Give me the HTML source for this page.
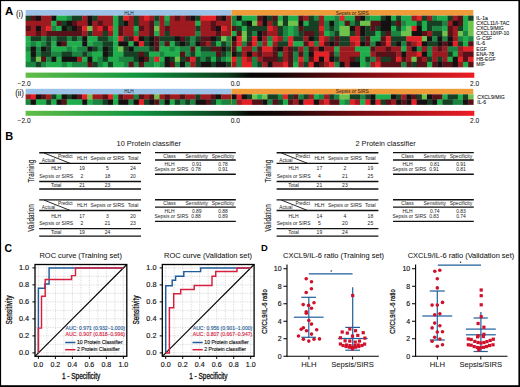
<!DOCTYPE html><html><head><meta charset="utf-8"><style>html,body{margin:0;padding:0;background:#fff;overflow:hidden}svg{display:block}text{font-family:"Liberation Sans", sans-serif;}</style></head><body>
<svg width="520" height="387" viewBox="0 0 520 387">
<rect width="520" height="387" fill="#fff"/>
<text x="5" y="14.7" font-size="11.5" text-anchor="start" fill="#000" stroke="none" font-weight="bold" >A</text>
<text x="16.0" y="16.6" font-size="8.2" text-anchor="start" fill="#111" stroke="#111" stroke-width="0.05" font-weight="normal" transform="translate(16.0,0) scale(0.97,1) translate(-16.0,0)">(i)</text>
<rect x="25.6" y="10" width="205.90" height="5.6" fill="#9dc2e8"/>
<rect x="231.5" y="10" width="241.80" height="5.6" fill="#ef9b3a"/>
<text x="129" y="14.6" font-size="4.7" text-anchor="middle" fill="#222" stroke="none" font-weight="normal" >HLH</text>
<text x="352.3" y="14.7" font-size="4.9" text-anchor="middle" fill="#222" stroke="none" font-weight="normal" >Sepsis or SIRS</text>
<rect x="25.60" y="15.60" width="5.45" height="5.44" fill="#173f24"/>
<rect x="30.75" y="15.60" width="5.45" height="5.44" fill="#561218"/>
<rect x="35.89" y="15.60" width="5.45" height="5.44" fill="#151112"/>
<rect x="41.04" y="15.60" width="10.59" height="5.44" fill="#9e1a21"/>
<rect x="51.33" y="15.60" width="5.45" height="5.44" fill="#151112"/>
<rect x="56.48" y="15.60" width="10.59" height="5.44" fill="#20ad4b"/>
<rect x="66.77" y="15.60" width="5.45" height="5.44" fill="#1a8440"/>
<rect x="71.91" y="15.60" width="10.59" height="5.44" fill="#173f24"/>
<rect x="82.21" y="15.60" width="5.45" height="5.44" fill="#9e1a21"/>
<rect x="87.35" y="15.60" width="5.45" height="5.44" fill="#151112"/>
<rect x="92.50" y="15.60" width="5.45" height="5.44" fill="#173f24"/>
<rect x="97.64" y="15.60" width="15.74" height="5.44" fill="#9e1a21"/>
<rect x="113.08" y="15.60" width="5.45" height="5.44" fill="#20ad4b"/>
<rect x="118.23" y="15.60" width="5.45" height="5.44" fill="#173f24"/>
<rect x="123.37" y="15.60" width="5.45" height="5.44" fill="#e32228"/>
<rect x="128.52" y="15.60" width="5.45" height="5.44" fill="#9e1a21"/>
<rect x="133.67" y="15.60" width="5.45" height="5.44" fill="#173f24"/>
<rect x="138.81" y="15.60" width="5.45" height="5.44" fill="#9e1a21"/>
<rect x="143.96" y="15.60" width="5.45" height="5.44" fill="#e32228"/>
<rect x="149.10" y="15.60" width="5.45" height="5.44" fill="#9e1a21"/>
<rect x="154.25" y="15.60" width="5.45" height="5.44" fill="#173f24"/>
<rect x="159.40" y="15.60" width="5.45" height="5.44" fill="#9e1a21"/>
<rect x="164.54" y="15.60" width="5.45" height="5.44" fill="#20ad4b"/>
<rect x="169.69" y="15.60" width="5.45" height="5.44" fill="#9e1a21"/>
<rect x="174.83" y="15.60" width="5.45" height="5.44" fill="#561218"/>
<rect x="179.98" y="15.60" width="5.45" height="5.44" fill="#9e1a21"/>
<rect x="185.13" y="15.60" width="5.45" height="5.44" fill="#561218"/>
<rect x="190.27" y="15.60" width="5.45" height="5.44" fill="#151112"/>
<rect x="195.42" y="15.60" width="5.45" height="5.44" fill="#173f24"/>
<rect x="200.56" y="15.60" width="15.74" height="5.44" fill="#e32228"/>
<rect x="216.00" y="15.60" width="5.45" height="5.44" fill="#561218"/>
<rect x="221.15" y="15.60" width="5.45" height="5.44" fill="#151112"/>
<rect x="226.29" y="15.60" width="5.45" height="5.44" fill="#9e1a21"/>
<rect x="231.44" y="15.60" width="5.45" height="5.44" fill="#1a8440"/>
<rect x="236.59" y="15.60" width="5.45" height="5.44" fill="#151112"/>
<rect x="241.73" y="15.60" width="15.74" height="5.44" fill="#20ad4b"/>
<rect x="257.17" y="15.60" width="5.45" height="5.44" fill="#561218"/>
<rect x="262.31" y="15.60" width="5.45" height="5.44" fill="#151112"/>
<rect x="267.46" y="15.60" width="5.45" height="5.44" fill="#173f24"/>
<rect x="272.61" y="15.60" width="5.45" height="5.44" fill="#561218"/>
<rect x="277.75" y="15.60" width="5.45" height="5.44" fill="#20ad4b"/>
<rect x="282.90" y="15.60" width="5.45" height="5.44" fill="#173f24"/>
<rect x="288.04" y="15.60" width="10.59" height="5.44" fill="#20ad4b"/>
<rect x="298.34" y="15.60" width="5.45" height="5.44" fill="#561218"/>
<rect x="303.48" y="15.60" width="5.45" height="5.44" fill="#9e1a21"/>
<rect x="308.63" y="15.60" width="5.45" height="5.44" fill="#173f24"/>
<rect x="313.77" y="15.60" width="5.45" height="5.44" fill="#1a8440"/>
<rect x="318.92" y="15.60" width="5.45" height="5.44" fill="#9e1a21"/>
<rect x="324.07" y="15.60" width="10.59" height="5.44" fill="#20ad4b"/>
<rect x="334.36" y="15.60" width="5.45" height="5.44" fill="#1a8440"/>
<rect x="339.50" y="15.60" width="5.45" height="5.44" fill="#e32228"/>
<rect x="344.65" y="15.60" width="10.59" height="5.44" fill="#20ad4b"/>
<rect x="354.94" y="15.60" width="5.45" height="5.44" fill="#561218"/>
<rect x="360.09" y="15.60" width="5.45" height="5.44" fill="#151112"/>
<rect x="365.23" y="15.60" width="5.45" height="5.44" fill="#1a8440"/>
<rect x="370.38" y="15.60" width="10.59" height="5.44" fill="#20ad4b"/>
<rect x="380.67" y="15.60" width="5.45" height="5.44" fill="#173f24"/>
<rect x="385.82" y="15.60" width="5.45" height="5.44" fill="#151112"/>
<rect x="390.96" y="15.60" width="5.45" height="5.44" fill="#20ad4b"/>
<rect x="396.11" y="15.60" width="5.45" height="5.44" fill="#173f24"/>
<rect x="401.26" y="15.60" width="10.59" height="5.44" fill="#20ad4b"/>
<rect x="411.55" y="15.60" width="5.45" height="5.44" fill="#9e1a21"/>
<rect x="416.69" y="15.60" width="5.45" height="5.44" fill="#e32228"/>
<rect x="421.84" y="15.60" width="5.45" height="5.44" fill="#173f24"/>
<rect x="426.99" y="15.60" width="5.45" height="5.44" fill="#9e1a21"/>
<rect x="432.13" y="15.60" width="5.45" height="5.44" fill="#1a8440"/>
<rect x="437.28" y="15.60" width="10.59" height="5.44" fill="#20ad4b"/>
<rect x="447.57" y="15.60" width="5.45" height="5.44" fill="#173f24"/>
<rect x="452.72" y="15.60" width="5.45" height="5.44" fill="#9e1a21"/>
<rect x="457.86" y="15.60" width="5.45" height="5.44" fill="#561218"/>
<rect x="463.01" y="15.60" width="5.45" height="5.44" fill="#20ad4b"/>
<rect x="468.15" y="15.60" width="5.45" height="5.44" fill="#173f24"/>
<rect x="25.60" y="20.74" width="26.03" height="5.44" fill="#9e1a21"/>
<rect x="51.33" y="20.74" width="5.45" height="5.44" fill="#20ad4b"/>
<rect x="56.48" y="20.74" width="5.45" height="5.44" fill="#561218"/>
<rect x="61.62" y="20.74" width="5.45" height="5.44" fill="#173f24"/>
<rect x="66.77" y="20.74" width="5.45" height="5.44" fill="#151112"/>
<rect x="71.91" y="20.74" width="5.45" height="5.44" fill="#561218"/>
<rect x="77.06" y="20.74" width="10.59" height="5.44" fill="#9e1a21"/>
<rect x="87.35" y="20.74" width="5.45" height="5.44" fill="#151112"/>
<rect x="92.50" y="20.74" width="5.45" height="5.44" fill="#9e1a21"/>
<rect x="97.64" y="20.74" width="5.45" height="5.44" fill="#561218"/>
<rect x="102.79" y="20.74" width="10.59" height="5.44" fill="#9e1a21"/>
<rect x="113.08" y="20.74" width="5.45" height="5.44" fill="#20ad4b"/>
<rect x="118.23" y="20.74" width="5.45" height="5.44" fill="#173f24"/>
<rect x="123.37" y="20.74" width="5.45" height="5.44" fill="#151112"/>
<rect x="128.52" y="20.74" width="5.45" height="5.44" fill="#9e1a21"/>
<rect x="133.67" y="20.74" width="5.45" height="5.44" fill="#173f24"/>
<rect x="138.81" y="20.74" width="10.59" height="5.44" fill="#9e1a21"/>
<rect x="149.10" y="20.74" width="5.45" height="5.44" fill="#561218"/>
<rect x="154.25" y="20.74" width="5.45" height="5.44" fill="#1a8440"/>
<rect x="159.40" y="20.74" width="5.45" height="5.44" fill="#9e1a21"/>
<rect x="164.54" y="20.74" width="5.45" height="5.44" fill="#1a8440"/>
<rect x="169.69" y="20.74" width="26.03" height="5.44" fill="#9e1a21"/>
<rect x="195.42" y="20.74" width="5.45" height="5.44" fill="#20ad4b"/>
<rect x="200.56" y="20.74" width="10.59" height="5.44" fill="#9e1a21"/>
<rect x="210.86" y="20.74" width="5.45" height="5.44" fill="#561218"/>
<rect x="216.00" y="20.74" width="15.74" height="5.44" fill="#9e1a21"/>
<rect x="231.44" y="20.74" width="5.45" height="5.44" fill="#1a8440"/>
<rect x="236.59" y="20.74" width="5.45" height="5.44" fill="#20ad4b"/>
<rect x="241.73" y="20.74" width="5.45" height="5.44" fill="#173f24"/>
<rect x="246.88" y="20.74" width="5.45" height="5.44" fill="#151112"/>
<rect x="252.02" y="20.74" width="5.45" height="5.44" fill="#6fc24c"/>
<rect x="257.17" y="20.74" width="5.45" height="5.44" fill="#9e1a21"/>
<rect x="262.31" y="20.74" width="5.45" height="5.44" fill="#151112"/>
<rect x="267.46" y="20.74" width="5.45" height="5.44" fill="#9e1a21"/>
<rect x="272.61" y="20.74" width="5.45" height="5.44" fill="#173f24"/>
<rect x="277.75" y="20.74" width="5.45" height="5.44" fill="#6fc24c"/>
<rect x="282.90" y="20.74" width="5.45" height="5.44" fill="#173f24"/>
<rect x="288.04" y="20.74" width="10.59" height="5.44" fill="#6fc24c"/>
<rect x="298.34" y="20.74" width="5.45" height="5.44" fill="#151112"/>
<rect x="303.48" y="20.74" width="5.45" height="5.44" fill="#20ad4b"/>
<rect x="308.63" y="20.74" width="10.59" height="5.44" fill="#173f24"/>
<rect x="318.92" y="20.74" width="5.45" height="5.44" fill="#9e1a21"/>
<rect x="324.07" y="20.74" width="5.45" height="5.44" fill="#1a8440"/>
<rect x="329.21" y="20.74" width="5.45" height="5.44" fill="#151112"/>
<rect x="334.36" y="20.74" width="5.45" height="5.44" fill="#1a8440"/>
<rect x="339.50" y="20.74" width="5.45" height="5.44" fill="#20ad4b"/>
<rect x="344.65" y="20.74" width="5.45" height="5.44" fill="#561218"/>
<rect x="349.80" y="20.74" width="5.45" height="5.44" fill="#1a8440"/>
<rect x="354.94" y="20.74" width="5.45" height="5.44" fill="#173f24"/>
<rect x="360.09" y="20.74" width="10.59" height="5.44" fill="#6fc24c"/>
<rect x="370.38" y="20.74" width="10.59" height="5.44" fill="#561218"/>
<rect x="380.67" y="20.74" width="10.59" height="5.44" fill="#151112"/>
<rect x="390.96" y="20.74" width="5.45" height="5.44" fill="#173f24"/>
<rect x="396.11" y="20.74" width="5.45" height="5.44" fill="#561218"/>
<rect x="401.26" y="20.74" width="5.45" height="5.44" fill="#1a8440"/>
<rect x="406.40" y="20.74" width="10.59" height="5.44" fill="#20ad4b"/>
<rect x="416.69" y="20.74" width="5.45" height="5.44" fill="#173f24"/>
<rect x="421.84" y="20.74" width="5.45" height="5.44" fill="#20ad4b"/>
<rect x="426.99" y="20.74" width="15.74" height="5.44" fill="#173f24"/>
<rect x="442.42" y="20.74" width="5.45" height="5.44" fill="#1a8440"/>
<rect x="447.57" y="20.74" width="5.45" height="5.44" fill="#9e1a21"/>
<rect x="452.72" y="20.74" width="5.45" height="5.44" fill="#151112"/>
<rect x="457.86" y="20.74" width="5.45" height="5.44" fill="#561218"/>
<rect x="463.01" y="20.74" width="5.45" height="5.44" fill="#20ad4b"/>
<rect x="468.15" y="20.74" width="5.45" height="5.44" fill="#6fc24c"/>
<rect x="25.60" y="25.88" width="5.45" height="5.44" fill="#561218"/>
<rect x="30.75" y="25.88" width="5.45" height="5.44" fill="#9e1a21"/>
<rect x="35.89" y="25.88" width="5.45" height="5.44" fill="#151112"/>
<rect x="41.04" y="25.88" width="5.45" height="5.44" fill="#9e1a21"/>
<rect x="46.18" y="25.88" width="5.45" height="5.44" fill="#e32228"/>
<rect x="51.33" y="25.88" width="5.45" height="5.44" fill="#1a8440"/>
<rect x="56.48" y="25.88" width="5.45" height="5.44" fill="#20ad4b"/>
<rect x="61.62" y="25.88" width="5.45" height="5.44" fill="#151112"/>
<rect x="66.77" y="25.88" width="5.45" height="5.44" fill="#173f24"/>
<rect x="71.91" y="25.88" width="5.45" height="5.44" fill="#151112"/>
<rect x="77.06" y="25.88" width="5.45" height="5.44" fill="#561218"/>
<rect x="82.21" y="25.88" width="5.45" height="5.44" fill="#e32228"/>
<rect x="87.35" y="25.88" width="5.45" height="5.44" fill="#6fc24c"/>
<rect x="92.50" y="25.88" width="5.45" height="5.44" fill="#9e1a21"/>
<rect x="97.64" y="25.88" width="5.45" height="5.44" fill="#e32228"/>
<rect x="102.79" y="25.88" width="5.45" height="5.44" fill="#561218"/>
<rect x="107.94" y="25.88" width="5.45" height="5.44" fill="#e32228"/>
<rect x="113.08" y="25.88" width="5.45" height="5.44" fill="#20ad4b"/>
<rect x="118.23" y="25.88" width="5.45" height="5.44" fill="#561218"/>
<rect x="123.37" y="25.88" width="10.59" height="5.44" fill="#9e1a21"/>
<rect x="133.67" y="25.88" width="5.45" height="5.44" fill="#20ad4b"/>
<rect x="138.81" y="25.88" width="5.45" height="5.44" fill="#561218"/>
<rect x="143.96" y="25.88" width="5.45" height="5.44" fill="#9e1a21"/>
<rect x="149.10" y="25.88" width="5.45" height="5.44" fill="#561218"/>
<rect x="154.25" y="25.88" width="5.45" height="5.44" fill="#6fc24c"/>
<rect x="159.40" y="25.88" width="5.45" height="5.44" fill="#9e1a21"/>
<rect x="164.54" y="25.88" width="5.45" height="5.44" fill="#561218"/>
<rect x="169.69" y="25.88" width="26.03" height="5.44" fill="#9e1a21"/>
<rect x="195.42" y="25.88" width="5.45" height="5.44" fill="#173f24"/>
<rect x="200.56" y="25.88" width="10.59" height="5.44" fill="#9e1a21"/>
<rect x="210.86" y="25.88" width="5.45" height="5.44" fill="#561218"/>
<rect x="216.00" y="25.88" width="5.45" height="5.44" fill="#151112"/>
<rect x="221.15" y="25.88" width="5.45" height="5.44" fill="#e32228"/>
<rect x="226.29" y="25.88" width="5.45" height="5.44" fill="#9e1a21"/>
<rect x="231.44" y="25.88" width="5.45" height="5.44" fill="#561218"/>
<rect x="236.59" y="25.88" width="5.45" height="5.44" fill="#173f24"/>
<rect x="241.73" y="25.88" width="5.45" height="5.44" fill="#20ad4b"/>
<rect x="246.88" y="25.88" width="20.88" height="5.44" fill="#173f24"/>
<rect x="267.46" y="25.88" width="5.45" height="5.44" fill="#e32228"/>
<rect x="272.61" y="25.88" width="5.45" height="5.44" fill="#9e1a21"/>
<rect x="277.75" y="25.88" width="5.45" height="5.44" fill="#173f24"/>
<rect x="282.90" y="25.88" width="5.45" height="5.44" fill="#1a8440"/>
<rect x="288.04" y="25.88" width="5.45" height="5.44" fill="#20ad4b"/>
<rect x="293.19" y="25.88" width="5.45" height="5.44" fill="#1a8440"/>
<rect x="298.34" y="25.88" width="5.45" height="5.44" fill="#561218"/>
<rect x="303.48" y="25.88" width="15.74" height="5.44" fill="#173f24"/>
<rect x="318.92" y="25.88" width="5.45" height="5.44" fill="#e32228"/>
<rect x="324.07" y="25.88" width="5.45" height="5.44" fill="#1a8440"/>
<rect x="329.21" y="25.88" width="5.45" height="5.44" fill="#173f24"/>
<rect x="334.36" y="25.88" width="5.45" height="5.44" fill="#1a8440"/>
<rect x="339.50" y="25.88" width="10.59" height="5.44" fill="#6fc24c"/>
<rect x="349.80" y="25.88" width="5.45" height="5.44" fill="#151112"/>
<rect x="354.94" y="25.88" width="5.45" height="5.44" fill="#9e1a21"/>
<rect x="360.09" y="25.88" width="5.45" height="5.44" fill="#151112"/>
<rect x="365.23" y="25.88" width="5.45" height="5.44" fill="#173f24"/>
<rect x="370.38" y="25.88" width="5.45" height="5.44" fill="#561218"/>
<rect x="375.53" y="25.88" width="5.45" height="5.44" fill="#173f24"/>
<rect x="380.67" y="25.88" width="10.59" height="5.44" fill="#151112"/>
<rect x="390.96" y="25.88" width="5.45" height="5.44" fill="#20ad4b"/>
<rect x="396.11" y="25.88" width="5.45" height="5.44" fill="#173f24"/>
<rect x="401.26" y="25.88" width="5.45" height="5.44" fill="#20ad4b"/>
<rect x="406.40" y="25.88" width="5.45" height="5.44" fill="#6fc24c"/>
<rect x="411.55" y="25.88" width="5.45" height="5.44" fill="#e32228"/>
<rect x="416.69" y="25.88" width="5.45" height="5.44" fill="#151112"/>
<rect x="421.84" y="25.88" width="5.45" height="5.44" fill="#20ad4b"/>
<rect x="426.99" y="25.88" width="5.45" height="5.44" fill="#173f24"/>
<rect x="432.13" y="25.88" width="10.59" height="5.44" fill="#1a8440"/>
<rect x="442.42" y="25.88" width="5.45" height="5.44" fill="#20ad4b"/>
<rect x="447.57" y="25.88" width="5.45" height="5.44" fill="#561218"/>
<rect x="452.72" y="25.88" width="5.45" height="5.44" fill="#9e1a21"/>
<rect x="457.86" y="25.88" width="5.45" height="5.44" fill="#173f24"/>
<rect x="463.01" y="25.88" width="5.45" height="5.44" fill="#20ad4b"/>
<rect x="468.15" y="25.88" width="5.45" height="5.44" fill="#6fc24c"/>
<rect x="25.60" y="31.02" width="10.59" height="5.44" fill="#9e1a21"/>
<rect x="35.89" y="31.02" width="5.45" height="5.44" fill="#561218"/>
<rect x="41.04" y="31.02" width="5.45" height="5.44" fill="#9e1a21"/>
<rect x="46.18" y="31.02" width="36.32" height="5.44" fill="#561218"/>
<rect x="82.21" y="31.02" width="5.45" height="5.44" fill="#9e1a21"/>
<rect x="87.35" y="31.02" width="5.45" height="5.44" fill="#173f24"/>
<rect x="92.50" y="31.02" width="10.59" height="5.44" fill="#9e1a21"/>
<rect x="102.79" y="31.02" width="5.45" height="5.44" fill="#173f24"/>
<rect x="107.94" y="31.02" width="5.45" height="5.44" fill="#9e1a21"/>
<rect x="113.08" y="31.02" width="5.45" height="5.44" fill="#20ad4b"/>
<rect x="118.23" y="31.02" width="5.45" height="5.44" fill="#561218"/>
<rect x="123.37" y="31.02" width="10.59" height="5.44" fill="#9e1a21"/>
<rect x="133.67" y="31.02" width="5.45" height="5.44" fill="#1a8440"/>
<rect x="138.81" y="31.02" width="10.59" height="5.44" fill="#9e1a21"/>
<rect x="149.10" y="31.02" width="5.45" height="5.44" fill="#561218"/>
<rect x="154.25" y="31.02" width="5.45" height="5.44" fill="#20ad4b"/>
<rect x="159.40" y="31.02" width="5.45" height="5.44" fill="#9e1a21"/>
<rect x="164.54" y="31.02" width="5.45" height="5.44" fill="#173f24"/>
<rect x="169.69" y="31.02" width="26.03" height="5.44" fill="#9e1a21"/>
<rect x="195.42" y="31.02" width="5.45" height="5.44" fill="#1a8440"/>
<rect x="200.56" y="31.02" width="15.74" height="5.44" fill="#9e1a21"/>
<rect x="216.00" y="31.02" width="5.45" height="5.44" fill="#561218"/>
<rect x="221.15" y="31.02" width="10.59" height="5.44" fill="#9e1a21"/>
<rect x="231.44" y="31.02" width="5.45" height="5.44" fill="#20ad4b"/>
<rect x="236.59" y="31.02" width="5.45" height="5.44" fill="#561218"/>
<rect x="241.73" y="31.02" width="5.45" height="5.44" fill="#6fc24c"/>
<rect x="246.88" y="31.02" width="5.45" height="5.44" fill="#173f24"/>
<rect x="252.02" y="31.02" width="5.45" height="5.44" fill="#1a8440"/>
<rect x="257.17" y="31.02" width="5.45" height="5.44" fill="#151112"/>
<rect x="262.31" y="31.02" width="5.45" height="5.44" fill="#561218"/>
<rect x="267.46" y="31.02" width="10.59" height="5.44" fill="#9e1a21"/>
<rect x="277.75" y="31.02" width="5.45" height="5.44" fill="#173f24"/>
<rect x="282.90" y="31.02" width="5.45" height="5.44" fill="#1a8440"/>
<rect x="288.04" y="31.02" width="5.45" height="5.44" fill="#20ad4b"/>
<rect x="293.19" y="31.02" width="5.45" height="5.44" fill="#1a8440"/>
<rect x="298.34" y="31.02" width="5.45" height="5.44" fill="#173f24"/>
<rect x="303.48" y="31.02" width="10.59" height="5.44" fill="#561218"/>
<rect x="313.77" y="31.02" width="5.45" height="5.44" fill="#173f24"/>
<rect x="318.92" y="31.02" width="5.45" height="5.44" fill="#9e1a21"/>
<rect x="324.07" y="31.02" width="5.45" height="5.44" fill="#20ad4b"/>
<rect x="329.21" y="31.02" width="5.45" height="5.44" fill="#1a8440"/>
<rect x="334.36" y="31.02" width="5.45" height="5.44" fill="#173f24"/>
<rect x="339.50" y="31.02" width="10.59" height="5.44" fill="#6fc24c"/>
<rect x="349.80" y="31.02" width="5.45" height="5.44" fill="#173f24"/>
<rect x="354.94" y="31.02" width="5.45" height="5.44" fill="#9e1a21"/>
<rect x="360.09" y="31.02" width="5.45" height="5.44" fill="#151112"/>
<rect x="365.23" y="31.02" width="10.59" height="5.44" fill="#173f24"/>
<rect x="375.53" y="31.02" width="5.45" height="5.44" fill="#20ad4b"/>
<rect x="380.67" y="31.02" width="5.45" height="5.44" fill="#173f24"/>
<rect x="385.82" y="31.02" width="5.45" height="5.44" fill="#561218"/>
<rect x="390.96" y="31.02" width="10.59" height="5.44" fill="#1a8440"/>
<rect x="401.26" y="31.02" width="10.59" height="5.44" fill="#6fc24c"/>
<rect x="411.55" y="31.02" width="10.59" height="5.44" fill="#151112"/>
<rect x="421.84" y="31.02" width="5.45" height="5.44" fill="#561218"/>
<rect x="426.99" y="31.02" width="5.45" height="5.44" fill="#9e1a21"/>
<rect x="432.13" y="31.02" width="10.59" height="5.44" fill="#173f24"/>
<rect x="442.42" y="31.02" width="5.45" height="5.44" fill="#6fc24c"/>
<rect x="447.57" y="31.02" width="5.45" height="5.44" fill="#561218"/>
<rect x="452.72" y="31.02" width="5.45" height="5.44" fill="#9e1a21"/>
<rect x="457.86" y="31.02" width="5.45" height="5.44" fill="#6fc24c"/>
<rect x="463.01" y="31.02" width="5.45" height="5.44" fill="#1a8440"/>
<rect x="468.15" y="31.02" width="5.45" height="5.44" fill="#6fc24c"/>
<rect x="25.60" y="36.16" width="5.45" height="5.44" fill="#20ad4b"/>
<rect x="30.75" y="36.16" width="10.59" height="5.44" fill="#173f24"/>
<rect x="41.04" y="36.16" width="5.45" height="5.44" fill="#1a8440"/>
<rect x="46.18" y="36.16" width="5.45" height="5.44" fill="#173f24"/>
<rect x="51.33" y="36.16" width="5.45" height="5.44" fill="#1a8440"/>
<rect x="56.48" y="36.16" width="10.59" height="5.44" fill="#173f24"/>
<rect x="66.77" y="36.16" width="5.45" height="5.44" fill="#1a8440"/>
<rect x="71.91" y="36.16" width="5.45" height="5.44" fill="#173f24"/>
<rect x="77.06" y="36.16" width="5.45" height="5.44" fill="#1a8440"/>
<rect x="82.21" y="36.16" width="5.45" height="5.44" fill="#151112"/>
<rect x="87.35" y="36.16" width="10.59" height="5.44" fill="#20ad4b"/>
<rect x="97.64" y="36.16" width="10.59" height="5.44" fill="#173f24"/>
<rect x="107.94" y="36.16" width="5.45" height="5.44" fill="#1a8440"/>
<rect x="113.08" y="36.16" width="5.45" height="5.44" fill="#20ad4b"/>
<rect x="118.23" y="36.16" width="5.45" height="5.44" fill="#e32228"/>
<rect x="123.37" y="36.16" width="5.45" height="5.44" fill="#173f24"/>
<rect x="128.52" y="36.16" width="5.45" height="5.44" fill="#561218"/>
<rect x="133.67" y="36.16" width="5.45" height="5.44" fill="#e32228"/>
<rect x="138.81" y="36.16" width="5.45" height="5.44" fill="#151112"/>
<rect x="143.96" y="36.16" width="5.45" height="5.44" fill="#173f24"/>
<rect x="149.10" y="36.16" width="5.45" height="5.44" fill="#151112"/>
<rect x="154.25" y="36.16" width="5.45" height="5.44" fill="#561218"/>
<rect x="159.40" y="36.16" width="15.74" height="5.44" fill="#173f24"/>
<rect x="174.83" y="36.16" width="5.45" height="5.44" fill="#151112"/>
<rect x="179.98" y="36.16" width="5.45" height="5.44" fill="#561218"/>
<rect x="185.13" y="36.16" width="5.45" height="5.44" fill="#173f24"/>
<rect x="190.27" y="36.16" width="5.45" height="5.44" fill="#1a8440"/>
<rect x="195.42" y="36.16" width="5.45" height="5.44" fill="#173f24"/>
<rect x="200.56" y="36.16" width="10.59" height="5.44" fill="#561218"/>
<rect x="210.86" y="36.16" width="5.45" height="5.44" fill="#151112"/>
<rect x="216.00" y="36.16" width="5.45" height="5.44" fill="#173f24"/>
<rect x="221.15" y="36.16" width="5.45" height="5.44" fill="#6fc24c"/>
<rect x="226.29" y="36.16" width="5.45" height="5.44" fill="#1a8440"/>
<rect x="231.44" y="36.16" width="5.45" height="5.44" fill="#151112"/>
<rect x="236.59" y="36.16" width="5.45" height="5.44" fill="#e32228"/>
<rect x="241.73" y="36.16" width="5.45" height="5.44" fill="#6fc24c"/>
<rect x="246.88" y="36.16" width="5.45" height="5.44" fill="#173f24"/>
<rect x="252.02" y="36.16" width="5.45" height="5.44" fill="#e32228"/>
<rect x="257.17" y="36.16" width="5.45" height="5.44" fill="#151112"/>
<rect x="262.31" y="36.16" width="5.45" height="5.44" fill="#9e1a21"/>
<rect x="267.46" y="36.16" width="5.45" height="5.44" fill="#1a8440"/>
<rect x="272.61" y="36.16" width="5.45" height="5.44" fill="#e32228"/>
<rect x="277.75" y="36.16" width="5.45" height="5.44" fill="#9e1a21"/>
<rect x="282.90" y="36.16" width="5.45" height="5.44" fill="#1a8440"/>
<rect x="288.04" y="36.16" width="5.45" height="5.44" fill="#e32228"/>
<rect x="293.19" y="36.16" width="10.59" height="5.44" fill="#173f24"/>
<rect x="303.48" y="36.16" width="5.45" height="5.44" fill="#9e1a21"/>
<rect x="308.63" y="36.16" width="5.45" height="5.44" fill="#151112"/>
<rect x="313.77" y="36.16" width="5.45" height="5.44" fill="#173f24"/>
<rect x="318.92" y="36.16" width="5.45" height="5.44" fill="#e32228"/>
<rect x="324.07" y="36.16" width="5.45" height="5.44" fill="#9e1a21"/>
<rect x="329.21" y="36.16" width="5.45" height="5.44" fill="#173f24"/>
<rect x="334.36" y="36.16" width="5.45" height="5.44" fill="#561218"/>
<rect x="339.50" y="36.16" width="10.59" height="5.44" fill="#173f24"/>
<rect x="349.80" y="36.16" width="10.59" height="5.44" fill="#e32228"/>
<rect x="360.09" y="36.16" width="5.45" height="5.44" fill="#173f24"/>
<rect x="365.23" y="36.16" width="5.45" height="5.44" fill="#561218"/>
<rect x="370.38" y="36.16" width="10.59" height="5.44" fill="#20ad4b"/>
<rect x="380.67" y="36.16" width="5.45" height="5.44" fill="#561218"/>
<rect x="385.82" y="36.16" width="5.45" height="5.44" fill="#e32228"/>
<rect x="390.96" y="36.16" width="15.74" height="5.44" fill="#173f24"/>
<rect x="406.40" y="36.16" width="15.74" height="5.44" fill="#e32228"/>
<rect x="421.84" y="36.16" width="5.45" height="5.44" fill="#6fc24c"/>
<rect x="426.99" y="36.16" width="5.45" height="5.44" fill="#151112"/>
<rect x="432.13" y="36.16" width="5.45" height="5.44" fill="#1a8440"/>
<rect x="437.28" y="36.16" width="5.45" height="5.44" fill="#151112"/>
<rect x="442.42" y="36.16" width="5.45" height="5.44" fill="#1a8440"/>
<rect x="447.57" y="36.16" width="5.45" height="5.44" fill="#151112"/>
<rect x="452.72" y="36.16" width="5.45" height="5.44" fill="#9e1a21"/>
<rect x="457.86" y="36.16" width="5.45" height="5.44" fill="#1a8440"/>
<rect x="463.01" y="36.16" width="5.45" height="5.44" fill="#20ad4b"/>
<rect x="468.15" y="36.16" width="5.45" height="5.44" fill="#1a8440"/>
<rect x="25.60" y="41.30" width="5.45" height="5.44" fill="#20ad4b"/>
<rect x="30.75" y="41.30" width="5.45" height="5.44" fill="#1a8440"/>
<rect x="35.89" y="41.30" width="5.45" height="5.44" fill="#20ad4b"/>
<rect x="41.04" y="41.30" width="5.45" height="5.44" fill="#1a8440"/>
<rect x="46.18" y="41.30" width="5.45" height="5.44" fill="#173f24"/>
<rect x="51.33" y="41.30" width="5.45" height="5.44" fill="#20ad4b"/>
<rect x="56.48" y="41.30" width="5.45" height="5.44" fill="#151112"/>
<rect x="61.62" y="41.30" width="5.45" height="5.44" fill="#561218"/>
<rect x="66.77" y="41.30" width="15.74" height="5.44" fill="#20ad4b"/>
<rect x="82.21" y="41.30" width="5.45" height="5.44" fill="#151112"/>
<rect x="87.35" y="41.30" width="5.45" height="5.44" fill="#20ad4b"/>
<rect x="92.50" y="41.30" width="10.59" height="5.44" fill="#1a8440"/>
<rect x="102.79" y="41.30" width="10.59" height="5.44" fill="#173f24"/>
<rect x="113.08" y="41.30" width="5.45" height="5.44" fill="#20ad4b"/>
<rect x="118.23" y="41.30" width="10.59" height="5.44" fill="#151112"/>
<rect x="128.52" y="41.30" width="5.45" height="5.44" fill="#20ad4b"/>
<rect x="133.67" y="41.30" width="5.45" height="5.44" fill="#151112"/>
<rect x="138.81" y="41.30" width="5.45" height="5.44" fill="#e32228"/>
<rect x="143.96" y="41.30" width="5.45" height="5.44" fill="#173f24"/>
<rect x="149.10" y="41.30" width="5.45" height="5.44" fill="#151112"/>
<rect x="154.25" y="41.30" width="5.45" height="5.44" fill="#561218"/>
<rect x="159.40" y="41.30" width="5.45" height="5.44" fill="#1a8440"/>
<rect x="164.54" y="41.30" width="5.45" height="5.44" fill="#561218"/>
<rect x="169.69" y="41.30" width="5.45" height="5.44" fill="#20ad4b"/>
<rect x="174.83" y="41.30" width="5.45" height="5.44" fill="#173f24"/>
<rect x="179.98" y="41.30" width="5.45" height="5.44" fill="#151112"/>
<rect x="185.13" y="41.30" width="5.45" height="5.44" fill="#173f24"/>
<rect x="190.27" y="41.30" width="5.45" height="5.44" fill="#1a8440"/>
<rect x="195.42" y="41.30" width="5.45" height="5.44" fill="#151112"/>
<rect x="200.56" y="41.30" width="5.45" height="5.44" fill="#561218"/>
<rect x="205.71" y="41.30" width="5.45" height="5.44" fill="#9e1a21"/>
<rect x="210.86" y="41.30" width="5.45" height="5.44" fill="#173f24"/>
<rect x="216.00" y="41.30" width="5.45" height="5.44" fill="#20ad4b"/>
<rect x="221.15" y="41.30" width="5.45" height="5.44" fill="#173f24"/>
<rect x="226.29" y="41.30" width="5.45" height="5.44" fill="#1a8440"/>
<rect x="231.44" y="41.30" width="5.45" height="5.44" fill="#561218"/>
<rect x="236.59" y="41.30" width="5.45" height="5.44" fill="#e32228"/>
<rect x="241.73" y="41.30" width="5.45" height="5.44" fill="#1a8440"/>
<rect x="246.88" y="41.30" width="5.45" height="5.44" fill="#561218"/>
<rect x="252.02" y="41.30" width="5.45" height="5.44" fill="#e32228"/>
<rect x="257.17" y="41.30" width="5.45" height="5.44" fill="#1a8440"/>
<rect x="262.31" y="41.30" width="5.45" height="5.44" fill="#9e1a21"/>
<rect x="267.46" y="41.30" width="5.45" height="5.44" fill="#20ad4b"/>
<rect x="272.61" y="41.30" width="5.45" height="5.44" fill="#9e1a21"/>
<rect x="277.75" y="41.30" width="10.59" height="5.44" fill="#173f24"/>
<rect x="288.04" y="41.30" width="5.45" height="5.44" fill="#e32228"/>
<rect x="293.19" y="41.30" width="10.59" height="5.44" fill="#20ad4b"/>
<rect x="303.48" y="41.30" width="5.45" height="5.44" fill="#561218"/>
<rect x="308.63" y="41.30" width="5.45" height="5.44" fill="#e32228"/>
<rect x="313.77" y="41.30" width="5.45" height="5.44" fill="#1a8440"/>
<rect x="318.92" y="41.30" width="5.45" height="5.44" fill="#e32228"/>
<rect x="324.07" y="41.30" width="5.45" height="5.44" fill="#561218"/>
<rect x="329.21" y="41.30" width="5.45" height="5.44" fill="#151112"/>
<rect x="334.36" y="41.30" width="5.45" height="5.44" fill="#561218"/>
<rect x="339.50" y="41.30" width="10.59" height="5.44" fill="#173f24"/>
<rect x="349.80" y="41.30" width="5.45" height="5.44" fill="#9e1a21"/>
<rect x="354.94" y="41.30" width="5.45" height="5.44" fill="#e32228"/>
<rect x="360.09" y="41.30" width="5.45" height="5.44" fill="#151112"/>
<rect x="365.23" y="41.30" width="5.45" height="5.44" fill="#561218"/>
<rect x="370.38" y="41.30" width="5.45" height="5.44" fill="#1a8440"/>
<rect x="375.53" y="41.30" width="5.45" height="5.44" fill="#151112"/>
<rect x="380.67" y="41.30" width="5.45" height="5.44" fill="#561218"/>
<rect x="385.82" y="41.30" width="5.45" height="5.44" fill="#e32228"/>
<rect x="390.96" y="41.30" width="5.45" height="5.44" fill="#173f24"/>
<rect x="396.11" y="41.30" width="5.45" height="5.44" fill="#151112"/>
<rect x="401.26" y="41.30" width="5.45" height="5.44" fill="#1a8440"/>
<rect x="406.40" y="41.30" width="5.45" height="5.44" fill="#561218"/>
<rect x="411.55" y="41.30" width="5.45" height="5.44" fill="#9e1a21"/>
<rect x="416.69" y="41.30" width="5.45" height="5.44" fill="#e32228"/>
<rect x="421.84" y="41.30" width="5.45" height="5.44" fill="#151112"/>
<rect x="426.99" y="41.30" width="10.59" height="5.44" fill="#173f24"/>
<rect x="437.28" y="41.30" width="5.45" height="5.44" fill="#151112"/>
<rect x="442.42" y="41.30" width="5.45" height="5.44" fill="#561218"/>
<rect x="447.57" y="41.30" width="5.45" height="5.44" fill="#151112"/>
<rect x="452.72" y="41.30" width="5.45" height="5.44" fill="#e32228"/>
<rect x="457.86" y="41.30" width="5.45" height="5.44" fill="#173f24"/>
<rect x="463.01" y="41.30" width="5.45" height="5.44" fill="#20ad4b"/>
<rect x="468.15" y="41.30" width="5.45" height="5.44" fill="#561218"/>
<rect x="25.60" y="46.44" width="5.45" height="5.44" fill="#1a8440"/>
<rect x="30.75" y="46.44" width="5.45" height="5.44" fill="#151112"/>
<rect x="35.89" y="46.44" width="5.45" height="5.44" fill="#1a8440"/>
<rect x="41.04" y="46.44" width="5.45" height="5.44" fill="#151112"/>
<rect x="46.18" y="46.44" width="5.45" height="5.44" fill="#173f24"/>
<rect x="51.33" y="46.44" width="15.74" height="5.44" fill="#20ad4b"/>
<rect x="66.77" y="46.44" width="5.45" height="5.44" fill="#1a8440"/>
<rect x="71.91" y="46.44" width="5.45" height="5.44" fill="#20ad4b"/>
<rect x="77.06" y="46.44" width="10.59" height="5.44" fill="#1a8440"/>
<rect x="87.35" y="46.44" width="5.45" height="5.44" fill="#151112"/>
<rect x="92.50" y="46.44" width="5.45" height="5.44" fill="#173f24"/>
<rect x="97.64" y="46.44" width="5.45" height="5.44" fill="#1a8440"/>
<rect x="102.79" y="46.44" width="5.45" height="5.44" fill="#151112"/>
<rect x="107.94" y="46.44" width="5.45" height="5.44" fill="#173f24"/>
<rect x="113.08" y="46.44" width="5.45" height="5.44" fill="#20ad4b"/>
<rect x="118.23" y="46.44" width="5.45" height="5.44" fill="#6fc24c"/>
<rect x="123.37" y="46.44" width="5.45" height="5.44" fill="#173f24"/>
<rect x="128.52" y="46.44" width="5.45" height="5.44" fill="#151112"/>
<rect x="133.67" y="46.44" width="15.74" height="5.44" fill="#1a8440"/>
<rect x="149.10" y="46.44" width="5.45" height="5.44" fill="#173f24"/>
<rect x="154.25" y="46.44" width="5.45" height="5.44" fill="#561218"/>
<rect x="159.40" y="46.44" width="10.59" height="5.44" fill="#20ad4b"/>
<rect x="169.69" y="46.44" width="5.45" height="5.44" fill="#1a8440"/>
<rect x="174.83" y="46.44" width="5.45" height="5.44" fill="#20ad4b"/>
<rect x="179.98" y="46.44" width="10.59" height="5.44" fill="#1a8440"/>
<rect x="190.27" y="46.44" width="5.45" height="5.44" fill="#561218"/>
<rect x="195.42" y="46.44" width="5.45" height="5.44" fill="#20ad4b"/>
<rect x="200.56" y="46.44" width="10.59" height="5.44" fill="#173f24"/>
<rect x="210.86" y="46.44" width="10.59" height="5.44" fill="#561218"/>
<rect x="221.15" y="46.44" width="5.45" height="5.44" fill="#151112"/>
<rect x="226.29" y="46.44" width="5.45" height="5.44" fill="#173f24"/>
<rect x="231.44" y="46.44" width="5.45" height="5.44" fill="#561218"/>
<rect x="236.59" y="46.44" width="5.45" height="5.44" fill="#20ad4b"/>
<rect x="241.73" y="46.44" width="10.59" height="5.44" fill="#9e1a21"/>
<rect x="252.02" y="46.44" width="5.45" height="5.44" fill="#1a8440"/>
<rect x="257.17" y="46.44" width="5.45" height="5.44" fill="#561218"/>
<rect x="262.31" y="46.44" width="10.59" height="5.44" fill="#e32228"/>
<rect x="272.61" y="46.44" width="5.45" height="5.44" fill="#561218"/>
<rect x="277.75" y="46.44" width="5.45" height="5.44" fill="#151112"/>
<rect x="282.90" y="46.44" width="5.45" height="5.44" fill="#9e1a21"/>
<rect x="288.04" y="46.44" width="5.45" height="5.44" fill="#561218"/>
<rect x="293.19" y="46.44" width="5.45" height="5.44" fill="#173f24"/>
<rect x="298.34" y="46.44" width="5.45" height="5.44" fill="#9e1a21"/>
<rect x="303.48" y="46.44" width="5.45" height="5.44" fill="#1a8440"/>
<rect x="308.63" y="46.44" width="5.45" height="5.44" fill="#561218"/>
<rect x="313.77" y="46.44" width="5.45" height="5.44" fill="#9e1a21"/>
<rect x="318.92" y="46.44" width="5.45" height="5.44" fill="#151112"/>
<rect x="324.07" y="46.44" width="10.59" height="5.44" fill="#9e1a21"/>
<rect x="334.36" y="46.44" width="5.45" height="5.44" fill="#20ad4b"/>
<rect x="339.50" y="46.44" width="15.74" height="5.44" fill="#9e1a21"/>
<rect x="354.94" y="46.44" width="15.74" height="5.44" fill="#20ad4b"/>
<rect x="370.38" y="46.44" width="5.45" height="5.44" fill="#561218"/>
<rect x="375.53" y="46.44" width="10.59" height="5.44" fill="#9e1a21"/>
<rect x="385.82" y="46.44" width="5.45" height="5.44" fill="#561218"/>
<rect x="390.96" y="46.44" width="10.59" height="5.44" fill="#9e1a21"/>
<rect x="401.26" y="46.44" width="5.45" height="5.44" fill="#20ad4b"/>
<rect x="406.40" y="46.44" width="5.45" height="5.44" fill="#9e1a21"/>
<rect x="411.55" y="46.44" width="5.45" height="5.44" fill="#151112"/>
<rect x="416.69" y="46.44" width="5.45" height="5.44" fill="#1a8440"/>
<rect x="421.84" y="46.44" width="5.45" height="5.44" fill="#9e1a21"/>
<rect x="426.99" y="46.44" width="5.45" height="5.44" fill="#1a8440"/>
<rect x="432.13" y="46.44" width="5.45" height="5.44" fill="#9e1a21"/>
<rect x="437.28" y="46.44" width="5.45" height="5.44" fill="#561218"/>
<rect x="442.42" y="46.44" width="5.45" height="5.44" fill="#9e1a21"/>
<rect x="447.57" y="46.44" width="10.59" height="5.44" fill="#1a8440"/>
<rect x="457.86" y="46.44" width="5.45" height="5.44" fill="#9e1a21"/>
<rect x="463.01" y="46.44" width="10.59" height="5.44" fill="#e32228"/>
<rect x="25.60" y="51.58" width="5.45" height="5.44" fill="#20ad4b"/>
<rect x="30.75" y="51.58" width="5.45" height="5.44" fill="#151112"/>
<rect x="35.89" y="51.58" width="5.45" height="5.44" fill="#1a8440"/>
<rect x="41.04" y="51.58" width="10.59" height="5.44" fill="#173f24"/>
<rect x="51.33" y="51.58" width="10.59" height="5.44" fill="#1a8440"/>
<rect x="61.62" y="51.58" width="10.59" height="5.44" fill="#173f24"/>
<rect x="71.91" y="51.58" width="10.59" height="5.44" fill="#1a8440"/>
<rect x="82.21" y="51.58" width="5.45" height="5.44" fill="#173f24"/>
<rect x="87.35" y="51.58" width="5.45" height="5.44" fill="#1a8440"/>
<rect x="92.50" y="51.58" width="10.59" height="5.44" fill="#20ad4b"/>
<rect x="102.79" y="51.58" width="5.45" height="5.44" fill="#151112"/>
<rect x="107.94" y="51.58" width="5.45" height="5.44" fill="#173f24"/>
<rect x="113.08" y="51.58" width="10.59" height="5.44" fill="#20ad4b"/>
<rect x="123.37" y="51.58" width="15.74" height="5.44" fill="#173f24"/>
<rect x="138.81" y="51.58" width="5.45" height="5.44" fill="#561218"/>
<rect x="143.96" y="51.58" width="5.45" height="5.44" fill="#173f24"/>
<rect x="149.10" y="51.58" width="10.59" height="5.44" fill="#20ad4b"/>
<rect x="159.40" y="51.58" width="5.45" height="5.44" fill="#1a8440"/>
<rect x="164.54" y="51.58" width="15.74" height="5.44" fill="#20ad4b"/>
<rect x="179.98" y="51.58" width="5.45" height="5.44" fill="#561218"/>
<rect x="185.13" y="51.58" width="5.45" height="5.44" fill="#1a8440"/>
<rect x="190.27" y="51.58" width="5.45" height="5.44" fill="#173f24"/>
<rect x="195.42" y="51.58" width="5.45" height="5.44" fill="#20ad4b"/>
<rect x="200.56" y="51.58" width="15.74" height="5.44" fill="#1a8440"/>
<rect x="216.00" y="51.58" width="5.45" height="5.44" fill="#561218"/>
<rect x="221.15" y="51.58" width="5.45" height="5.44" fill="#173f24"/>
<rect x="226.29" y="51.58" width="5.45" height="5.44" fill="#1a8440"/>
<rect x="231.44" y="51.58" width="5.45" height="5.44" fill="#151112"/>
<rect x="236.59" y="51.58" width="5.45" height="5.44" fill="#173f24"/>
<rect x="241.73" y="51.58" width="5.45" height="5.44" fill="#9e1a21"/>
<rect x="246.88" y="51.58" width="5.45" height="5.44" fill="#151112"/>
<rect x="252.02" y="51.58" width="5.45" height="5.44" fill="#9e1a21"/>
<rect x="257.17" y="51.58" width="5.45" height="5.44" fill="#561218"/>
<rect x="262.31" y="51.58" width="10.59" height="5.44" fill="#9e1a21"/>
<rect x="272.61" y="51.58" width="5.45" height="5.44" fill="#561218"/>
<rect x="277.75" y="51.58" width="5.45" height="5.44" fill="#1a8440"/>
<rect x="282.90" y="51.58" width="5.45" height="5.44" fill="#9e1a21"/>
<rect x="288.04" y="51.58" width="5.45" height="5.44" fill="#561218"/>
<rect x="293.19" y="51.58" width="5.45" height="5.44" fill="#1a8440"/>
<rect x="298.34" y="51.58" width="5.45" height="5.44" fill="#561218"/>
<rect x="303.48" y="51.58" width="5.45" height="5.44" fill="#1a8440"/>
<rect x="308.63" y="51.58" width="5.45" height="5.44" fill="#151112"/>
<rect x="313.77" y="51.58" width="15.74" height="5.44" fill="#e32228"/>
<rect x="329.21" y="51.58" width="5.45" height="5.44" fill="#561218"/>
<rect x="334.36" y="51.58" width="5.45" height="5.44" fill="#1a8440"/>
<rect x="339.50" y="51.58" width="20.88" height="5.44" fill="#9e1a21"/>
<rect x="360.09" y="51.58" width="10.59" height="5.44" fill="#20ad4b"/>
<rect x="370.38" y="51.58" width="5.45" height="5.44" fill="#9e1a21"/>
<rect x="375.53" y="51.58" width="20.88" height="5.44" fill="#561218"/>
<rect x="396.11" y="51.58" width="5.45" height="5.44" fill="#9e1a21"/>
<rect x="401.26" y="51.58" width="5.45" height="5.44" fill="#151112"/>
<rect x="406.40" y="51.58" width="10.59" height="5.44" fill="#9e1a21"/>
<rect x="416.69" y="51.58" width="5.45" height="5.44" fill="#e32228"/>
<rect x="421.84" y="51.58" width="5.45" height="5.44" fill="#151112"/>
<rect x="426.99" y="51.58" width="5.45" height="5.44" fill="#1a8440"/>
<rect x="432.13" y="51.58" width="15.74" height="5.44" fill="#9e1a21"/>
<rect x="447.57" y="51.58" width="5.45" height="5.44" fill="#173f24"/>
<rect x="452.72" y="51.58" width="5.45" height="5.44" fill="#20ad4b"/>
<rect x="457.86" y="51.58" width="5.45" height="5.44" fill="#9e1a21"/>
<rect x="463.01" y="51.58" width="10.59" height="5.44" fill="#561218"/>
<rect x="25.60" y="56.72" width="5.45" height="5.44" fill="#20ad4b"/>
<rect x="30.75" y="56.72" width="5.45" height="5.44" fill="#173f24"/>
<rect x="35.89" y="56.72" width="5.45" height="5.44" fill="#6fc24c"/>
<rect x="41.04" y="56.72" width="5.45" height="5.44" fill="#561218"/>
<rect x="46.18" y="56.72" width="5.45" height="5.44" fill="#1a8440"/>
<rect x="51.33" y="56.72" width="5.45" height="5.44" fill="#151112"/>
<rect x="56.48" y="56.72" width="5.45" height="5.44" fill="#20ad4b"/>
<rect x="61.62" y="56.72" width="15.74" height="5.44" fill="#151112"/>
<rect x="77.06" y="56.72" width="5.45" height="5.44" fill="#9e1a21"/>
<rect x="82.21" y="56.72" width="5.45" height="5.44" fill="#20ad4b"/>
<rect x="87.35" y="56.72" width="5.45" height="5.44" fill="#151112"/>
<rect x="92.50" y="56.72" width="5.45" height="5.44" fill="#20ad4b"/>
<rect x="97.64" y="56.72" width="5.45" height="5.44" fill="#1a8440"/>
<rect x="102.79" y="56.72" width="5.45" height="5.44" fill="#173f24"/>
<rect x="107.94" y="56.72" width="10.59" height="5.44" fill="#20ad4b"/>
<rect x="118.23" y="56.72" width="15.74" height="5.44" fill="#1a8440"/>
<rect x="133.67" y="56.72" width="5.45" height="5.44" fill="#173f24"/>
<rect x="138.81" y="56.72" width="5.45" height="5.44" fill="#151112"/>
<rect x="143.96" y="56.72" width="5.45" height="5.44" fill="#561218"/>
<rect x="149.10" y="56.72" width="5.45" height="5.44" fill="#1a8440"/>
<rect x="154.25" y="56.72" width="5.45" height="5.44" fill="#e32228"/>
<rect x="159.40" y="56.72" width="5.45" height="5.44" fill="#20ad4b"/>
<rect x="164.54" y="56.72" width="5.45" height="5.44" fill="#151112"/>
<rect x="169.69" y="56.72" width="5.45" height="5.44" fill="#173f24"/>
<rect x="174.83" y="56.72" width="5.45" height="5.44" fill="#6fc24c"/>
<rect x="179.98" y="56.72" width="5.45" height="5.44" fill="#173f24"/>
<rect x="185.13" y="56.72" width="5.45" height="5.44" fill="#561218"/>
<rect x="190.27" y="56.72" width="5.45" height="5.44" fill="#e32228"/>
<rect x="195.42" y="56.72" width="5.45" height="5.44" fill="#173f24"/>
<rect x="200.56" y="56.72" width="5.45" height="5.44" fill="#1a8440"/>
<rect x="205.71" y="56.72" width="5.45" height="5.44" fill="#173f24"/>
<rect x="210.86" y="56.72" width="5.45" height="5.44" fill="#20ad4b"/>
<rect x="216.00" y="56.72" width="5.45" height="5.44" fill="#173f24"/>
<rect x="221.15" y="56.72" width="5.45" height="5.44" fill="#1a8440"/>
<rect x="226.29" y="56.72" width="5.45" height="5.44" fill="#20ad4b"/>
<rect x="231.44" y="56.72" width="5.45" height="5.44" fill="#e32228"/>
<rect x="236.59" y="56.72" width="5.45" height="5.44" fill="#1a8440"/>
<rect x="241.73" y="56.72" width="5.45" height="5.44" fill="#e32228"/>
<rect x="246.88" y="56.72" width="5.45" height="5.44" fill="#9e1a21"/>
<rect x="252.02" y="56.72" width="5.45" height="5.44" fill="#1a8440"/>
<rect x="257.17" y="56.72" width="5.45" height="5.44" fill="#9e1a21"/>
<rect x="262.31" y="56.72" width="15.74" height="5.44" fill="#561218"/>
<rect x="277.75" y="56.72" width="5.45" height="5.44" fill="#173f24"/>
<rect x="282.90" y="56.72" width="5.45" height="5.44" fill="#9e1a21"/>
<rect x="288.04" y="56.72" width="5.45" height="5.44" fill="#561218"/>
<rect x="293.19" y="56.72" width="5.45" height="5.44" fill="#1a8440"/>
<rect x="298.34" y="56.72" width="5.45" height="5.44" fill="#e32228"/>
<rect x="303.48" y="56.72" width="5.45" height="5.44" fill="#1a8440"/>
<rect x="308.63" y="56.72" width="5.45" height="5.44" fill="#561218"/>
<rect x="313.77" y="56.72" width="5.45" height="5.44" fill="#e32228"/>
<rect x="318.92" y="56.72" width="5.45" height="5.44" fill="#151112"/>
<rect x="324.07" y="56.72" width="5.45" height="5.44" fill="#e32228"/>
<rect x="329.21" y="56.72" width="5.45" height="5.44" fill="#151112"/>
<rect x="334.36" y="56.72" width="5.45" height="5.44" fill="#173f24"/>
<rect x="339.50" y="56.72" width="10.59" height="5.44" fill="#9e1a21"/>
<rect x="349.80" y="56.72" width="5.45" height="5.44" fill="#561218"/>
<rect x="354.94" y="56.72" width="5.45" height="5.44" fill="#173f24"/>
<rect x="360.09" y="56.72" width="5.45" height="5.44" fill="#20ad4b"/>
<rect x="365.23" y="56.72" width="5.45" height="5.44" fill="#173f24"/>
<rect x="370.38" y="56.72" width="5.45" height="5.44" fill="#1a8440"/>
<rect x="375.53" y="56.72" width="5.45" height="5.44" fill="#9e1a21"/>
<rect x="380.67" y="56.72" width="10.59" height="5.44" fill="#173f24"/>
<rect x="390.96" y="56.72" width="5.45" height="5.44" fill="#561218"/>
<rect x="396.11" y="56.72" width="5.45" height="5.44" fill="#e32228"/>
<rect x="401.26" y="56.72" width="5.45" height="5.44" fill="#561218"/>
<rect x="406.40" y="56.72" width="5.45" height="5.44" fill="#9e1a21"/>
<rect x="411.55" y="56.72" width="5.45" height="5.44" fill="#6fc24c"/>
<rect x="416.69" y="56.72" width="5.45" height="5.44" fill="#561218"/>
<rect x="421.84" y="56.72" width="5.45" height="5.44" fill="#9e1a21"/>
<rect x="426.99" y="56.72" width="5.45" height="5.44" fill="#173f24"/>
<rect x="432.13" y="56.72" width="5.45" height="5.44" fill="#9e1a21"/>
<rect x="437.28" y="56.72" width="5.45" height="5.44" fill="#173f24"/>
<rect x="442.42" y="56.72" width="5.45" height="5.44" fill="#9e1a21"/>
<rect x="447.57" y="56.72" width="5.45" height="5.44" fill="#20ad4b"/>
<rect x="452.72" y="56.72" width="5.45" height="5.44" fill="#151112"/>
<rect x="457.86" y="56.72" width="5.45" height="5.44" fill="#e32228"/>
<rect x="463.01" y="56.72" width="5.45" height="5.44" fill="#561218"/>
<rect x="468.15" y="56.72" width="5.45" height="5.44" fill="#e32228"/>
<rect x="25.60" y="61.86" width="10.59" height="5.44" fill="#1a8440"/>
<rect x="35.89" y="61.86" width="5.45" height="5.44" fill="#173f24"/>
<rect x="41.04" y="61.86" width="5.45" height="5.44" fill="#1a8440"/>
<rect x="46.18" y="61.86" width="15.74" height="5.44" fill="#20ad4b"/>
<rect x="61.62" y="61.86" width="5.45" height="5.44" fill="#1a8440"/>
<rect x="66.77" y="61.86" width="5.45" height="5.44" fill="#20ad4b"/>
<rect x="71.91" y="61.86" width="15.74" height="5.44" fill="#1a8440"/>
<rect x="87.35" y="61.86" width="5.45" height="5.44" fill="#561218"/>
<rect x="92.50" y="61.86" width="5.45" height="5.44" fill="#173f24"/>
<rect x="97.64" y="61.86" width="5.45" height="5.44" fill="#1a8440"/>
<rect x="102.79" y="61.86" width="5.45" height="5.44" fill="#20ad4b"/>
<rect x="107.94" y="61.86" width="5.45" height="5.44" fill="#173f24"/>
<rect x="113.08" y="61.86" width="10.59" height="5.44" fill="#20ad4b"/>
<rect x="123.37" y="61.86" width="5.45" height="5.44" fill="#1a8440"/>
<rect x="128.52" y="61.86" width="5.45" height="5.44" fill="#561218"/>
<rect x="133.67" y="61.86" width="5.45" height="5.44" fill="#1a8440"/>
<rect x="138.81" y="61.86" width="5.45" height="5.44" fill="#561218"/>
<rect x="143.96" y="61.86" width="10.59" height="5.44" fill="#1a8440"/>
<rect x="154.25" y="61.86" width="5.45" height="5.44" fill="#20ad4b"/>
<rect x="159.40" y="61.86" width="5.45" height="5.44" fill="#1a8440"/>
<rect x="164.54" y="61.86" width="5.45" height="5.44" fill="#151112"/>
<rect x="169.69" y="61.86" width="5.45" height="5.44" fill="#561218"/>
<rect x="174.83" y="61.86" width="5.45" height="5.44" fill="#1a8440"/>
<rect x="179.98" y="61.86" width="5.45" height="5.44" fill="#151112"/>
<rect x="185.13" y="61.86" width="5.45" height="5.44" fill="#1a8440"/>
<rect x="190.27" y="61.86" width="5.45" height="5.44" fill="#9e1a21"/>
<rect x="195.42" y="61.86" width="5.45" height="5.44" fill="#173f24"/>
<rect x="200.56" y="61.86" width="10.59" height="5.44" fill="#151112"/>
<rect x="210.86" y="61.86" width="5.45" height="5.44" fill="#173f24"/>
<rect x="216.00" y="61.86" width="10.59" height="5.44" fill="#151112"/>
<rect x="226.29" y="61.86" width="5.45" height="5.44" fill="#173f24"/>
<rect x="231.44" y="61.86" width="5.45" height="5.44" fill="#9e1a21"/>
<rect x="236.59" y="61.86" width="5.45" height="5.44" fill="#1a8440"/>
<rect x="241.73" y="61.86" width="10.59" height="5.44" fill="#e32228"/>
<rect x="252.02" y="61.86" width="5.45" height="5.44" fill="#1a8440"/>
<rect x="257.17" y="61.86" width="5.45" height="5.44" fill="#173f24"/>
<rect x="262.31" y="61.86" width="5.45" height="5.44" fill="#9e1a21"/>
<rect x="267.46" y="61.86" width="5.45" height="5.44" fill="#151112"/>
<rect x="272.61" y="61.86" width="10.59" height="5.44" fill="#9e1a21"/>
<rect x="282.90" y="61.86" width="5.45" height="5.44" fill="#e32228"/>
<rect x="288.04" y="61.86" width="5.45" height="5.44" fill="#561218"/>
<rect x="293.19" y="61.86" width="5.45" height="5.44" fill="#20ad4b"/>
<rect x="298.34" y="61.86" width="5.45" height="5.44" fill="#9e1a21"/>
<rect x="303.48" y="61.86" width="5.45" height="5.44" fill="#173f24"/>
<rect x="308.63" y="61.86" width="5.45" height="5.44" fill="#e32228"/>
<rect x="313.77" y="61.86" width="5.45" height="5.44" fill="#151112"/>
<rect x="318.92" y="61.86" width="5.45" height="5.44" fill="#561218"/>
<rect x="324.07" y="61.86" width="5.45" height="5.44" fill="#9e1a21"/>
<rect x="329.21" y="61.86" width="5.45" height="5.44" fill="#e32228"/>
<rect x="334.36" y="61.86" width="5.45" height="5.44" fill="#1a8440"/>
<rect x="339.50" y="61.86" width="5.45" height="5.44" fill="#151112"/>
<rect x="344.65" y="61.86" width="5.45" height="5.44" fill="#9e1a21"/>
<rect x="349.80" y="61.86" width="10.59" height="5.44" fill="#151112"/>
<rect x="360.09" y="61.86" width="5.45" height="5.44" fill="#20ad4b"/>
<rect x="365.23" y="61.86" width="5.45" height="5.44" fill="#1a8440"/>
<rect x="370.38" y="61.86" width="5.45" height="5.44" fill="#9e1a21"/>
<rect x="375.53" y="61.86" width="5.45" height="5.44" fill="#e32228"/>
<rect x="380.67" y="61.86" width="20.88" height="5.44" fill="#561218"/>
<rect x="401.26" y="61.86" width="5.45" height="5.44" fill="#1a8440"/>
<rect x="406.40" y="61.86" width="5.45" height="5.44" fill="#561218"/>
<rect x="411.55" y="61.86" width="5.45" height="5.44" fill="#173f24"/>
<rect x="416.69" y="61.86" width="10.59" height="5.44" fill="#561218"/>
<rect x="426.99" y="61.86" width="5.45" height="5.44" fill="#20ad4b"/>
<rect x="432.13" y="61.86" width="5.45" height="5.44" fill="#561218"/>
<rect x="437.28" y="61.86" width="5.45" height="5.44" fill="#151112"/>
<rect x="442.42" y="61.86" width="10.59" height="5.44" fill="#561218"/>
<rect x="452.72" y="61.86" width="5.45" height="5.44" fill="#151112"/>
<rect x="457.86" y="61.86" width="5.45" height="5.44" fill="#9e1a21"/>
<rect x="463.01" y="61.86" width="5.45" height="5.44" fill="#20ad4b"/>
<rect x="468.15" y="61.86" width="5.45" height="5.44" fill="#561218"/>
<rect x="231.1" y="15.6" width="0.8" height="51.40" fill="#c8a020" opacity="0.8"/>
<text x="476.3" y="19.7" font-size="5.1" text-anchor="start" fill="#111" stroke="#111" stroke-width="0.08" font-weight="normal" >IL-1a</text>
<text x="476.3" y="24.839999999999996" font-size="5.1" text-anchor="start" fill="#111" stroke="#111" stroke-width="0.08" font-weight="normal" >CXCL11/I-TAC</text>
<text x="476.3" y="29.979999999999997" font-size="5.1" text-anchor="start" fill="#111" stroke="#111" stroke-width="0.08" font-weight="normal" >CXCL9/MIG</text>
<text x="476.3" y="35.12" font-size="5.1" text-anchor="start" fill="#111" stroke="#111" stroke-width="0.08" font-weight="normal" >CXCL10/IP-10</text>
<text x="476.3" y="40.26" font-size="5.1" text-anchor="start" fill="#111" stroke="#111" stroke-width="0.08" font-weight="normal" >G-CSF</text>
<text x="476.3" y="45.4" font-size="5.1" text-anchor="start" fill="#111" stroke="#111" stroke-width="0.08" font-weight="normal" >IL-6</text>
<text x="476.3" y="50.54" font-size="5.1" text-anchor="start" fill="#111" stroke="#111" stroke-width="0.08" font-weight="normal" >EGF</text>
<text x="476.3" y="55.68" font-size="5.1" text-anchor="start" fill="#111" stroke="#111" stroke-width="0.08" font-weight="normal" >ENA-78</text>
<text x="476.3" y="60.82" font-size="5.1" text-anchor="start" fill="#111" stroke="#111" stroke-width="0.08" font-weight="normal" >HB-EGF</text>
<text x="476.3" y="65.96" font-size="5.1" text-anchor="start" fill="#111" stroke="#111" stroke-width="0.08" font-weight="normal" >MIF</text>
<defs><linearGradient id="cb" x1="0" x2="1" y1="0" y2="0"><stop offset="0" stop-color="#62bd48"/><stop offset="0.25" stop-color="#10953f"/><stop offset="0.45" stop-color="#0b3d1c"/><stop offset="0.5" stop-color="#060606"/><stop offset="0.56" stop-color="#140606"/><stop offset="0.75" stop-color="#7a0c12"/><stop offset="1" stop-color="#ee1c25"/></linearGradient></defs>
<rect x="25.6" y="72.6" width="448.70" height="5.2" fill="url(#cb)"/>
<text x="17.6" y="85.8" font-size="6.6" text-anchor="start" fill="#111" stroke="#111" stroke-width="0.06" font-weight="normal" >−2.0</text>
<text x="230.7" y="85.5" font-size="6.6" text-anchor="start" fill="#111" stroke="#111" stroke-width="0.06" font-weight="normal" >0.0</text>
<text x="470.0" y="85.5" font-size="6.6" text-anchor="start" fill="#111" stroke="#111" stroke-width="0.06" font-weight="normal" >2.0</text>
<text x="15.2" y="96.3" font-size="8.2" text-anchor="start" fill="#111" stroke="#111" stroke-width="0.05" font-weight="normal" transform="translate(15.2,0) scale(0.97,1) translate(-15.2,0)">(ii)</text>
<rect x="25.6" y="88.8" width="205.90" height="5.5" fill="#9dc2e8"/>
<rect x="231.5" y="88.8" width="241.80" height="5.5" fill="#ef9b3a"/>
<text x="129" y="93.4" font-size="4.7" text-anchor="middle" fill="#222" stroke="none" font-weight="normal" >HLH</text>
<text x="352.3" y="93.4" font-size="4.9" text-anchor="middle" fill="#222" stroke="none" font-weight="normal" >Sepsis or SIRS</text>
<rect x="25.60" y="94.30" width="5.45" height="5.44" fill="#9e1a21"/>
<rect x="30.75" y="94.30" width="5.45" height="5.44" fill="#e32228"/>
<rect x="35.89" y="94.30" width="5.45" height="5.44" fill="#151112"/>
<rect x="41.04" y="94.30" width="5.45" height="5.44" fill="#561218"/>
<rect x="46.18" y="94.30" width="5.45" height="5.44" fill="#9e1a21"/>
<rect x="51.33" y="94.30" width="5.45" height="5.44" fill="#173f24"/>
<rect x="56.48" y="94.30" width="5.45" height="5.44" fill="#20ad4b"/>
<rect x="61.62" y="94.30" width="5.45" height="5.44" fill="#151112"/>
<rect x="66.77" y="94.30" width="5.45" height="5.44" fill="#173f24"/>
<rect x="71.91" y="94.30" width="5.45" height="5.44" fill="#151112"/>
<rect x="77.06" y="94.30" width="5.45" height="5.44" fill="#561218"/>
<rect x="82.21" y="94.30" width="5.45" height="5.44" fill="#e32228"/>
<rect x="87.35" y="94.30" width="5.45" height="5.44" fill="#6fc24c"/>
<rect x="92.50" y="94.30" width="10.59" height="5.44" fill="#9e1a21"/>
<rect x="102.79" y="94.30" width="5.45" height="5.44" fill="#561218"/>
<rect x="107.94" y="94.30" width="5.45" height="5.44" fill="#e32228"/>
<rect x="113.08" y="94.30" width="5.45" height="5.44" fill="#20ad4b"/>
<rect x="118.23" y="94.30" width="5.45" height="5.44" fill="#561218"/>
<rect x="123.37" y="94.30" width="10.59" height="5.44" fill="#9e1a21"/>
<rect x="133.67" y="94.30" width="5.45" height="5.44" fill="#1a8440"/>
<rect x="138.81" y="94.30" width="5.45" height="5.44" fill="#561218"/>
<rect x="143.96" y="94.30" width="5.45" height="5.44" fill="#9e1a21"/>
<rect x="149.10" y="94.30" width="5.45" height="5.44" fill="#561218"/>
<rect x="154.25" y="94.30" width="5.45" height="5.44" fill="#6fc24c"/>
<rect x="159.40" y="94.30" width="5.45" height="5.44" fill="#9e1a21"/>
<rect x="164.54" y="94.30" width="5.45" height="5.44" fill="#561218"/>
<rect x="169.69" y="94.30" width="10.59" height="5.44" fill="#9e1a21"/>
<rect x="179.98" y="94.30" width="5.45" height="5.44" fill="#561218"/>
<rect x="185.13" y="94.30" width="10.59" height="5.44" fill="#9e1a21"/>
<rect x="195.42" y="94.30" width="5.45" height="5.44" fill="#173f24"/>
<rect x="200.56" y="94.30" width="10.59" height="5.44" fill="#9e1a21"/>
<rect x="210.86" y="94.30" width="5.45" height="5.44" fill="#561218"/>
<rect x="216.00" y="94.30" width="5.45" height="5.44" fill="#151112"/>
<rect x="221.15" y="94.30" width="10.59" height="5.44" fill="#9e1a21"/>
<rect x="231.44" y="94.30" width="5.45" height="5.44" fill="#151112"/>
<rect x="236.59" y="94.30" width="5.45" height="5.44" fill="#e32228"/>
<rect x="241.73" y="94.30" width="5.45" height="5.44" fill="#151112"/>
<rect x="246.88" y="94.30" width="5.45" height="5.44" fill="#173f24"/>
<rect x="252.02" y="94.30" width="5.45" height="5.44" fill="#6fc24c"/>
<rect x="257.17" y="94.30" width="5.45" height="5.44" fill="#20ad4b"/>
<rect x="262.31" y="94.30" width="5.45" height="5.44" fill="#6fc24c"/>
<rect x="267.46" y="94.30" width="10.59" height="5.44" fill="#173f24"/>
<rect x="277.75" y="94.30" width="5.45" height="5.44" fill="#1a8440"/>
<rect x="282.90" y="94.30" width="5.45" height="5.44" fill="#e32228"/>
<rect x="288.04" y="94.30" width="5.45" height="5.44" fill="#173f24"/>
<rect x="293.19" y="94.30" width="5.45" height="5.44" fill="#561218"/>
<rect x="298.34" y="94.30" width="5.45" height="5.44" fill="#1a8440"/>
<rect x="303.48" y="94.30" width="5.45" height="5.44" fill="#173f24"/>
<rect x="308.63" y="94.30" width="5.45" height="5.44" fill="#9e1a21"/>
<rect x="313.77" y="94.30" width="5.45" height="5.44" fill="#20ad4b"/>
<rect x="318.92" y="94.30" width="5.45" height="5.44" fill="#1a8440"/>
<rect x="324.07" y="94.30" width="5.45" height="5.44" fill="#9e1a21"/>
<rect x="329.21" y="94.30" width="5.45" height="5.44" fill="#173f24"/>
<rect x="334.36" y="94.30" width="5.45" height="5.44" fill="#1a8440"/>
<rect x="339.50" y="94.30" width="10.59" height="5.44" fill="#6fc24c"/>
<rect x="349.80" y="94.30" width="10.59" height="5.44" fill="#173f24"/>
<rect x="360.09" y="94.30" width="5.45" height="5.44" fill="#1a8440"/>
<rect x="365.23" y="94.30" width="5.45" height="5.44" fill="#173f24"/>
<rect x="370.38" y="94.30" width="5.45" height="5.44" fill="#151112"/>
<rect x="375.53" y="94.30" width="15.74" height="5.44" fill="#20ad4b"/>
<rect x="390.96" y="94.30" width="5.45" height="5.44" fill="#151112"/>
<rect x="396.11" y="94.30" width="5.45" height="5.44" fill="#173f24"/>
<rect x="401.26" y="94.30" width="5.45" height="5.44" fill="#9e1a21"/>
<rect x="406.40" y="94.30" width="5.45" height="5.44" fill="#151112"/>
<rect x="411.55" y="94.30" width="5.45" height="5.44" fill="#561218"/>
<rect x="416.69" y="94.30" width="5.45" height="5.44" fill="#173f24"/>
<rect x="421.84" y="94.30" width="5.45" height="5.44" fill="#6fc24c"/>
<rect x="426.99" y="94.30" width="5.45" height="5.44" fill="#151112"/>
<rect x="432.13" y="94.30" width="10.59" height="5.44" fill="#561218"/>
<rect x="442.42" y="94.30" width="5.45" height="5.44" fill="#20ad4b"/>
<rect x="447.57" y="94.30" width="10.59" height="5.44" fill="#173f24"/>
<rect x="457.86" y="94.30" width="5.45" height="5.44" fill="#20ad4b"/>
<rect x="463.01" y="94.30" width="5.45" height="5.44" fill="#173f24"/>
<rect x="468.15" y="94.30" width="5.45" height="5.44" fill="#6fc24c"/>
<rect x="25.60" y="99.44" width="5.45" height="5.44" fill="#1a8440"/>
<rect x="30.75" y="99.44" width="5.45" height="5.44" fill="#151112"/>
<rect x="35.89" y="99.44" width="10.59" height="5.44" fill="#20ad4b"/>
<rect x="46.18" y="99.44" width="5.45" height="5.44" fill="#173f24"/>
<rect x="51.33" y="99.44" width="5.45" height="5.44" fill="#20ad4b"/>
<rect x="56.48" y="99.44" width="5.45" height="5.44" fill="#151112"/>
<rect x="61.62" y="99.44" width="5.45" height="5.44" fill="#561218"/>
<rect x="66.77" y="99.44" width="15.74" height="5.44" fill="#20ad4b"/>
<rect x="82.21" y="99.44" width="5.45" height="5.44" fill="#151112"/>
<rect x="87.35" y="99.44" width="5.45" height="5.44" fill="#20ad4b"/>
<rect x="92.50" y="99.44" width="10.59" height="5.44" fill="#1a8440"/>
<rect x="102.79" y="99.44" width="5.45" height="5.44" fill="#173f24"/>
<rect x="107.94" y="99.44" width="5.45" height="5.44" fill="#151112"/>
<rect x="113.08" y="99.44" width="5.45" height="5.44" fill="#20ad4b"/>
<rect x="118.23" y="99.44" width="10.59" height="5.44" fill="#151112"/>
<rect x="128.52" y="99.44" width="5.45" height="5.44" fill="#1a8440"/>
<rect x="133.67" y="99.44" width="5.45" height="5.44" fill="#151112"/>
<rect x="138.81" y="99.44" width="5.45" height="5.44" fill="#e32228"/>
<rect x="143.96" y="99.44" width="5.45" height="5.44" fill="#173f24"/>
<rect x="149.10" y="99.44" width="5.45" height="5.44" fill="#151112"/>
<rect x="154.25" y="99.44" width="5.45" height="5.44" fill="#561218"/>
<rect x="159.40" y="99.44" width="5.45" height="5.44" fill="#1a8440"/>
<rect x="164.54" y="99.44" width="5.45" height="5.44" fill="#151112"/>
<rect x="169.69" y="99.44" width="5.45" height="5.44" fill="#20ad4b"/>
<rect x="174.83" y="99.44" width="5.45" height="5.44" fill="#173f24"/>
<rect x="179.98" y="99.44" width="5.45" height="5.44" fill="#1a8440"/>
<rect x="185.13" y="99.44" width="5.45" height="5.44" fill="#173f24"/>
<rect x="190.27" y="99.44" width="5.45" height="5.44" fill="#1a8440"/>
<rect x="195.42" y="99.44" width="10.59" height="5.44" fill="#151112"/>
<rect x="205.71" y="99.44" width="5.45" height="5.44" fill="#561218"/>
<rect x="210.86" y="99.44" width="5.45" height="5.44" fill="#173f24"/>
<rect x="216.00" y="99.44" width="5.45" height="5.44" fill="#20ad4b"/>
<rect x="221.15" y="99.44" width="15.74" height="5.44" fill="#1a8440"/>
<rect x="236.59" y="99.44" width="5.45" height="5.44" fill="#9e1a21"/>
<rect x="241.73" y="99.44" width="10.59" height="5.44" fill="#e32228"/>
<rect x="252.02" y="99.44" width="10.59" height="5.44" fill="#561218"/>
<rect x="262.31" y="99.44" width="5.45" height="5.44" fill="#151112"/>
<rect x="267.46" y="99.44" width="5.45" height="5.44" fill="#1a8440"/>
<rect x="272.61" y="99.44" width="5.45" height="5.44" fill="#561218"/>
<rect x="277.75" y="99.44" width="5.45" height="5.44" fill="#173f24"/>
<rect x="282.90" y="99.44" width="5.45" height="5.44" fill="#20ad4b"/>
<rect x="288.04" y="99.44" width="5.45" height="5.44" fill="#561218"/>
<rect x="293.19" y="99.44" width="5.45" height="5.44" fill="#9e1a21"/>
<rect x="298.34" y="99.44" width="5.45" height="5.44" fill="#151112"/>
<rect x="303.48" y="99.44" width="10.59" height="5.44" fill="#e32228"/>
<rect x="313.77" y="99.44" width="5.45" height="5.44" fill="#151112"/>
<rect x="318.92" y="99.44" width="5.45" height="5.44" fill="#9e1a21"/>
<rect x="324.07" y="99.44" width="5.45" height="5.44" fill="#e32228"/>
<rect x="329.21" y="99.44" width="10.59" height="5.44" fill="#561218"/>
<rect x="339.50" y="99.44" width="5.45" height="5.44" fill="#20ad4b"/>
<rect x="344.65" y="99.44" width="5.45" height="5.44" fill="#1a8440"/>
<rect x="349.80" y="99.44" width="5.45" height="5.44" fill="#e32228"/>
<rect x="354.94" y="99.44" width="5.45" height="5.44" fill="#9e1a21"/>
<rect x="360.09" y="99.44" width="5.45" height="5.44" fill="#20ad4b"/>
<rect x="365.23" y="99.44" width="5.45" height="5.44" fill="#e32228"/>
<rect x="370.38" y="99.44" width="5.45" height="5.44" fill="#151112"/>
<rect x="375.53" y="99.44" width="5.45" height="5.44" fill="#e32228"/>
<rect x="380.67" y="99.44" width="5.45" height="5.44" fill="#173f24"/>
<rect x="385.82" y="99.44" width="5.45" height="5.44" fill="#561218"/>
<rect x="390.96" y="99.44" width="5.45" height="5.44" fill="#9e1a21"/>
<rect x="396.11" y="99.44" width="5.45" height="5.44" fill="#151112"/>
<rect x="401.26" y="99.44" width="5.45" height="5.44" fill="#561218"/>
<rect x="406.40" y="99.44" width="5.45" height="5.44" fill="#151112"/>
<rect x="411.55" y="99.44" width="5.45" height="5.44" fill="#e32228"/>
<rect x="416.69" y="99.44" width="10.59" height="5.44" fill="#151112"/>
<rect x="426.99" y="99.44" width="5.45" height="5.44" fill="#173f24"/>
<rect x="432.13" y="99.44" width="5.45" height="5.44" fill="#151112"/>
<rect x="437.28" y="99.44" width="5.45" height="5.44" fill="#20ad4b"/>
<rect x="442.42" y="99.44" width="10.59" height="5.44" fill="#173f24"/>
<rect x="452.72" y="99.44" width="10.59" height="5.44" fill="#1a8440"/>
<rect x="463.01" y="99.44" width="5.45" height="5.44" fill="#151112"/>
<rect x="468.15" y="99.44" width="5.45" height="5.44" fill="#561218"/>
<rect x="231.1" y="94.3" width="0.8" height="10.28" fill="#c8a020" opacity="0.8"/>
<text x="477.3" y="98.6" font-size="5.1" text-anchor="start" fill="#111" stroke="#111" stroke-width="0.08" font-weight="normal" >CXCL9/MIG</text>
<text x="477.3" y="104" font-size="5.1" text-anchor="start" fill="#111" stroke="#111" stroke-width="0.08" font-weight="normal" >IL-6</text>
<rect x="25.6" y="110.8" width="448.70" height="5" fill="url(#cb)"/>
<text x="17.6" y="123.0" font-size="6.6" text-anchor="start" fill="#111" stroke="#111" stroke-width="0.06" font-weight="normal" >−2.0</text>
<text x="230.7" y="122.9" font-size="6.6" text-anchor="start" fill="#111" stroke="#111" stroke-width="0.06" font-weight="normal" >0.0</text>
<text x="470.0" y="122.9" font-size="6.6" text-anchor="start" fill="#111" stroke="#111" stroke-width="0.06" font-weight="normal" >2.0</text>
<text x="5.2" y="140" font-size="11" text-anchor="start" fill="#000" stroke="none" font-weight="bold" >B</text>
<text x="148.8" y="145.5" font-size="7.4" text-anchor="middle" fill="#111" stroke="none" font-weight="normal" >10 Protein classifier</text>
<text x="385.6" y="145.5" font-size="7.4" text-anchor="middle" fill="#111" stroke="none" font-weight="normal" >2 Protein classifier</text>
<text transform="translate(33.5,171.2) rotate(-90) scale(0.65,1)" font-size="9.8" text-anchor="middle" fill="#1a1a1a" stroke="#1a1a1a" stroke-width="0.12" >Training</text>
<text transform="translate(33.5,218) rotate(-90) scale(0.65,1)" font-size="9.8" text-anchor="middle" fill="#1a1a1a" stroke="#1a1a1a" stroke-width="0.12" >Validation</text>
<text transform="translate(270.9,171.2) rotate(-90) scale(0.65,1)" font-size="9.8" text-anchor="middle" fill="#1a1a1a" stroke="#1a1a1a" stroke-width="0.12" >Training</text>
<text transform="translate(270.9,218) rotate(-90) scale(0.65,1)" font-size="9.8" text-anchor="middle" fill="#1a1a1a" stroke="#1a1a1a" stroke-width="0.12" >Validation</text>
<line x1="39.2" y1="152.8" x2="141.0" y2="152.8" stroke="#111" stroke-width="1.4"/>
<line x1="39.2" y1="163.4" x2="141.0" y2="163.4" stroke="#111" stroke-width="1.4"/>
<line x1="39.2" y1="181.5" x2="141.0" y2="181.5" stroke="#111" stroke-width="1.4"/>
<line x1="39.2" y1="189.0" x2="141.0" y2="189.0" stroke="#111" stroke-width="1.4"/>
<line x1="44.0" y1="153.0" x2="70.0" y2="163.3" stroke="#111" stroke-width="0.9"/>
<text x="58.0" y="157.60000000000002" font-size="4.7" text-anchor="start" fill="#222" stroke="none" font-weight="normal" >Predict</text>
<text x="41.800000000000004" y="161.9" font-size="4.8" text-anchor="start" fill="#222" stroke="none" font-weight="normal" >Actual</text>
<text x="82.0" y="160.20000000000002" font-size="5" text-anchor="middle" fill="#222" stroke="none" font-weight="normal" >HLH</text>
<text x="107.5" y="160.20000000000002" font-size="5" text-anchor="middle" fill="#222" stroke="none" font-weight="normal" >Sepsis or SIRS</text>
<text x="133.0" y="160.20000000000002" font-size="5" text-anchor="middle" fill="#222" stroke="none" font-weight="normal" >Total</text>
<text x="56.2" y="170.4" font-size="5" text-anchor="middle" fill="#222" stroke="none" font-weight="normal" >HLH</text>
<text x="56.2" y="177.70000000000002" font-size="5" text-anchor="middle" fill="#222" stroke="none" font-weight="normal" >Sepsis or SIRS</text>
<text x="56.2" y="186.9" font-size="5" text-anchor="middle" fill="#222" stroke="none" font-weight="normal" >Total</text>
<text x="82.0" y="170.4" font-size="5" text-anchor="middle" fill="#222" stroke="none" font-weight="normal" >19</text>
<text x="107.5" y="170.4" font-size="5" text-anchor="middle" fill="#222" stroke="none" font-weight="normal" >5</text>
<text x="133.0" y="170.4" font-size="5" text-anchor="middle" fill="#222" stroke="none" font-weight="normal" >24</text>
<text x="82.0" y="177.70000000000002" font-size="5" text-anchor="middle" fill="#222" stroke="none" font-weight="normal" >2</text>
<text x="107.5" y="177.70000000000002" font-size="5" text-anchor="middle" fill="#222" stroke="none" font-weight="normal" >18</text>
<text x="133.0" y="177.70000000000002" font-size="5" text-anchor="middle" fill="#222" stroke="none" font-weight="normal" >20</text>
<text x="82.0" y="186.9" font-size="5" text-anchor="middle" fill="#222" stroke="none" font-weight="normal" >21</text>
<text x="107.5" y="186.9" font-size="5" text-anchor="middle" fill="#222" stroke="none" font-weight="normal" >23</text>
<line x1="39.2" y1="199.9" x2="141.0" y2="199.9" stroke="#111" stroke-width="1.4"/>
<line x1="39.2" y1="210.5" x2="141.0" y2="210.5" stroke="#111" stroke-width="1.4"/>
<line x1="39.2" y1="228.6" x2="141.0" y2="228.6" stroke="#111" stroke-width="1.4"/>
<line x1="39.2" y1="236.10000000000002" x2="141.0" y2="236.10000000000002" stroke="#111" stroke-width="1.4"/>
<line x1="44.0" y1="200.1" x2="70.0" y2="210.4" stroke="#111" stroke-width="0.9"/>
<text x="58.0" y="204.70000000000002" font-size="4.7" text-anchor="start" fill="#222" stroke="none" font-weight="normal" >Predict</text>
<text x="41.800000000000004" y="209.0" font-size="4.8" text-anchor="start" fill="#222" stroke="none" font-weight="normal" >Actual</text>
<text x="82.0" y="207.3" font-size="5" text-anchor="middle" fill="#222" stroke="none" font-weight="normal" >HLH</text>
<text x="107.5" y="207.3" font-size="5" text-anchor="middle" fill="#222" stroke="none" font-weight="normal" >Sepsis or SIRS</text>
<text x="133.0" y="207.3" font-size="5" text-anchor="middle" fill="#222" stroke="none" font-weight="normal" >Total</text>
<text x="56.2" y="217.5" font-size="5" text-anchor="middle" fill="#222" stroke="none" font-weight="normal" >HLH</text>
<text x="56.2" y="224.8" font-size="5" text-anchor="middle" fill="#222" stroke="none" font-weight="normal" >Sepsis or SIRS</text>
<text x="56.2" y="234.0" font-size="5" text-anchor="middle" fill="#222" stroke="none" font-weight="normal" >Total</text>
<text x="82.0" y="217.5" font-size="5" text-anchor="middle" fill="#222" stroke="none" font-weight="normal" >17</text>
<text x="107.5" y="217.5" font-size="5" text-anchor="middle" fill="#222" stroke="none" font-weight="normal" >3</text>
<text x="133.0" y="217.5" font-size="5" text-anchor="middle" fill="#222" stroke="none" font-weight="normal" >20</text>
<text x="82.0" y="224.8" font-size="5" text-anchor="middle" fill="#222" stroke="none" font-weight="normal" >2</text>
<text x="107.5" y="224.8" font-size="5" text-anchor="middle" fill="#222" stroke="none" font-weight="normal" >21</text>
<text x="133.0" y="224.8" font-size="5" text-anchor="middle" fill="#222" stroke="none" font-weight="normal" >23</text>
<text x="82.0" y="234.0" font-size="5" text-anchor="middle" fill="#222" stroke="none" font-weight="normal" >19</text>
<text x="107.5" y="234.0" font-size="5" text-anchor="middle" fill="#222" stroke="none" font-weight="normal" >24</text>
<line x1="276.6" y1="152.8" x2="378.40000000000003" y2="152.8" stroke="#111" stroke-width="1.4"/>
<line x1="276.6" y1="163.4" x2="378.40000000000003" y2="163.4" stroke="#111" stroke-width="1.4"/>
<line x1="276.6" y1="181.5" x2="378.40000000000003" y2="181.5" stroke="#111" stroke-width="1.4"/>
<line x1="276.6" y1="189.0" x2="378.40000000000003" y2="189.0" stroke="#111" stroke-width="1.4"/>
<line x1="281.40000000000003" y1="153.0" x2="307.40000000000003" y2="163.3" stroke="#111" stroke-width="0.9"/>
<text x="295.40000000000003" y="157.60000000000002" font-size="4.7" text-anchor="start" fill="#222" stroke="none" font-weight="normal" >Predict</text>
<text x="279.20000000000005" y="161.9" font-size="4.8" text-anchor="start" fill="#222" stroke="none" font-weight="normal" >Actual</text>
<text x="319.40000000000003" y="160.20000000000002" font-size="5" text-anchor="middle" fill="#222" stroke="none" font-weight="normal" >HLH</text>
<text x="344.90000000000003" y="160.20000000000002" font-size="5" text-anchor="middle" fill="#222" stroke="none" font-weight="normal" >Sepsis or SIRS</text>
<text x="370.40000000000003" y="160.20000000000002" font-size="5" text-anchor="middle" fill="#222" stroke="none" font-weight="normal" >Total</text>
<text x="293.6" y="170.4" font-size="5" text-anchor="middle" fill="#222" stroke="none" font-weight="normal" >HLH</text>
<text x="293.6" y="177.70000000000002" font-size="5" text-anchor="middle" fill="#222" stroke="none" font-weight="normal" >Sepsis or SIRS</text>
<text x="293.6" y="186.9" font-size="5" text-anchor="middle" fill="#222" stroke="none" font-weight="normal" >Total</text>
<text x="319.40000000000003" y="170.4" font-size="5" text-anchor="middle" fill="#222" stroke="none" font-weight="normal" >17</text>
<text x="344.90000000000003" y="170.4" font-size="5" text-anchor="middle" fill="#222" stroke="none" font-weight="normal" >2</text>
<text x="370.40000000000003" y="170.4" font-size="5" text-anchor="middle" fill="#222" stroke="none" font-weight="normal" >19</text>
<text x="319.40000000000003" y="177.70000000000002" font-size="5" text-anchor="middle" fill="#222" stroke="none" font-weight="normal" >4</text>
<text x="344.90000000000003" y="177.70000000000002" font-size="5" text-anchor="middle" fill="#222" stroke="none" font-weight="normal" >21</text>
<text x="370.40000000000003" y="177.70000000000002" font-size="5" text-anchor="middle" fill="#222" stroke="none" font-weight="normal" >25</text>
<text x="319.40000000000003" y="186.9" font-size="5" text-anchor="middle" fill="#222" stroke="none" font-weight="normal" >21</text>
<text x="344.90000000000003" y="186.9" font-size="5" text-anchor="middle" fill="#222" stroke="none" font-weight="normal" >23</text>
<line x1="276.6" y1="199.9" x2="378.40000000000003" y2="199.9" stroke="#111" stroke-width="1.4"/>
<line x1="276.6" y1="210.5" x2="378.40000000000003" y2="210.5" stroke="#111" stroke-width="1.4"/>
<line x1="276.6" y1="228.6" x2="378.40000000000003" y2="228.6" stroke="#111" stroke-width="1.4"/>
<line x1="276.6" y1="236.10000000000002" x2="378.40000000000003" y2="236.10000000000002" stroke="#111" stroke-width="1.4"/>
<line x1="281.40000000000003" y1="200.1" x2="307.40000000000003" y2="210.4" stroke="#111" stroke-width="0.9"/>
<text x="295.40000000000003" y="204.70000000000002" font-size="4.7" text-anchor="start" fill="#222" stroke="none" font-weight="normal" >Predict</text>
<text x="279.20000000000005" y="209.0" font-size="4.8" text-anchor="start" fill="#222" stroke="none" font-weight="normal" >Actual</text>
<text x="319.40000000000003" y="207.3" font-size="5" text-anchor="middle" fill="#222" stroke="none" font-weight="normal" >HLH</text>
<text x="344.90000000000003" y="207.3" font-size="5" text-anchor="middle" fill="#222" stroke="none" font-weight="normal" >Sepsis or SIRS</text>
<text x="370.40000000000003" y="207.3" font-size="5" text-anchor="middle" fill="#222" stroke="none" font-weight="normal" >Total</text>
<text x="293.6" y="217.5" font-size="5" text-anchor="middle" fill="#222" stroke="none" font-weight="normal" >HLH</text>
<text x="293.6" y="224.8" font-size="5" text-anchor="middle" fill="#222" stroke="none" font-weight="normal" >Sepsis or SIRS</text>
<text x="293.6" y="234.0" font-size="5" text-anchor="middle" fill="#222" stroke="none" font-weight="normal" >Total</text>
<text x="319.40000000000003" y="217.5" font-size="5" text-anchor="middle" fill="#222" stroke="none" font-weight="normal" >14</text>
<text x="344.90000000000003" y="217.5" font-size="5" text-anchor="middle" fill="#222" stroke="none" font-weight="normal" >4</text>
<text x="370.40000000000003" y="217.5" font-size="5" text-anchor="middle" fill="#222" stroke="none" font-weight="normal" >18</text>
<text x="319.40000000000003" y="224.8" font-size="5" text-anchor="middle" fill="#222" stroke="none" font-weight="normal" >5</text>
<text x="344.90000000000003" y="224.8" font-size="5" text-anchor="middle" fill="#222" stroke="none" font-weight="normal" >20</text>
<text x="370.40000000000003" y="224.8" font-size="5" text-anchor="middle" fill="#222" stroke="none" font-weight="normal" >25</text>
<text x="319.40000000000003" y="234.0" font-size="5" text-anchor="middle" fill="#222" stroke="none" font-weight="normal" >19</text>
<text x="344.90000000000003" y="234.0" font-size="5" text-anchor="middle" fill="#222" stroke="none" font-weight="normal" >24</text>
<line x1="155" y1="152.6" x2="235.8" y2="152.6" stroke="#111" stroke-width="1.4"/>
<line x1="155" y1="160.0" x2="235.8" y2="160.0" stroke="#111" stroke-width="1.4"/>
<line x1="155" y1="174.29999999999998" x2="235.8" y2="174.29999999999998" stroke="#111" stroke-width="1.4"/>
<text x="169.6" y="157.7" font-size="5" text-anchor="middle" fill="#222" stroke="none" font-weight="normal" >Class</text>
<text x="196.8" y="157.7" font-size="5" text-anchor="middle" fill="#222" stroke="none" font-weight="normal" >Sensitivity</text>
<text x="223.0" y="157.7" font-size="5" text-anchor="middle" fill="#222" stroke="none" font-weight="normal" >Specificity</text>
<text x="169.6" y="166.2" font-size="5" text-anchor="middle" fill="#222" stroke="none" font-weight="normal" >HLH</text>
<text x="171.4" y="170.9" font-size="5" text-anchor="middle" fill="#222" stroke="none" font-weight="normal" >Sepsis or SIRS</text>
<text x="196.8" y="166.2" font-size="5" text-anchor="middle" fill="#222" stroke="none" font-weight="normal" >0.91</text>
<text x="223.0" y="166.2" font-size="5" text-anchor="middle" fill="#222" stroke="none" font-weight="normal" >0.78</text>
<text x="196.0" y="170.9" font-size="5" text-anchor="middle" fill="#222" stroke="none" font-weight="normal" >0.78</text>
<text x="223.0" y="170.9" font-size="5" text-anchor="middle" fill="#222" stroke="none" font-weight="normal" >0.91</text>
<line x1="155" y1="199.7" x2="235.8" y2="199.7" stroke="#111" stroke-width="1.4"/>
<line x1="155" y1="207.1" x2="235.8" y2="207.1" stroke="#111" stroke-width="1.4"/>
<line x1="155" y1="221.39999999999998" x2="235.8" y2="221.39999999999998" stroke="#111" stroke-width="1.4"/>
<text x="169.6" y="204.79999999999998" font-size="5" text-anchor="middle" fill="#222" stroke="none" font-weight="normal" >Class</text>
<text x="196.8" y="204.79999999999998" font-size="5" text-anchor="middle" fill="#222" stroke="none" font-weight="normal" >Sensitivity</text>
<text x="223.0" y="204.79999999999998" font-size="5" text-anchor="middle" fill="#222" stroke="none" font-weight="normal" >Specificity</text>
<text x="169.6" y="213.29999999999998" font-size="5" text-anchor="middle" fill="#222" stroke="none" font-weight="normal" >HLH</text>
<text x="171.4" y="218.0" font-size="5" text-anchor="middle" fill="#222" stroke="none" font-weight="normal" >Sepsis or SIRS</text>
<text x="196.8" y="213.29999999999998" font-size="5" text-anchor="middle" fill="#222" stroke="none" font-weight="normal" >0.89</text>
<text x="223.0" y="213.29999999999998" font-size="5" text-anchor="middle" fill="#222" stroke="none" font-weight="normal" >0.88</text>
<text x="196.0" y="218.0" font-size="5" text-anchor="middle" fill="#222" stroke="none" font-weight="normal" >0.88</text>
<text x="223.0" y="218.0" font-size="5" text-anchor="middle" fill="#222" stroke="none" font-weight="normal" >0.89</text>
<line x1="393" y1="152.6" x2="473.8" y2="152.6" stroke="#111" stroke-width="1.4"/>
<line x1="393" y1="160.0" x2="473.8" y2="160.0" stroke="#111" stroke-width="1.4"/>
<line x1="393" y1="174.29999999999998" x2="473.8" y2="174.29999999999998" stroke="#111" stroke-width="1.4"/>
<text x="407.6" y="157.7" font-size="5" text-anchor="middle" fill="#222" stroke="none" font-weight="normal" >Class</text>
<text x="434.8" y="157.7" font-size="5" text-anchor="middle" fill="#222" stroke="none" font-weight="normal" >Sensitivity</text>
<text x="461.0" y="157.7" font-size="5" text-anchor="middle" fill="#222" stroke="none" font-weight="normal" >Specificity</text>
<text x="407.6" y="166.2" font-size="5" text-anchor="middle" fill="#222" stroke="none" font-weight="normal" >HLH</text>
<text x="409.40000000000003" y="170.9" font-size="5" text-anchor="middle" fill="#222" stroke="none" font-weight="normal" >Sepsis or SIRS</text>
<text x="434.8" y="166.2" font-size="5" text-anchor="middle" fill="#222" stroke="none" font-weight="normal" >0.81</text>
<text x="461.0" y="166.2" font-size="5" text-anchor="middle" fill="#222" stroke="none" font-weight="normal" >0.91</text>
<text x="434.0" y="170.9" font-size="5" text-anchor="middle" fill="#222" stroke="none" font-weight="normal" >0.91</text>
<text x="461.0" y="170.9" font-size="5" text-anchor="middle" fill="#222" stroke="none" font-weight="normal" >0.81</text>
<line x1="393" y1="199.7" x2="473.8" y2="199.7" stroke="#111" stroke-width="1.4"/>
<line x1="393" y1="207.1" x2="473.8" y2="207.1" stroke="#111" stroke-width="1.4"/>
<line x1="393" y1="221.39999999999998" x2="473.8" y2="221.39999999999998" stroke="#111" stroke-width="1.4"/>
<text x="407.6" y="204.79999999999998" font-size="5" text-anchor="middle" fill="#222" stroke="none" font-weight="normal" >Class</text>
<text x="434.8" y="204.79999999999998" font-size="5" text-anchor="middle" fill="#222" stroke="none" font-weight="normal" >Sensitivity</text>
<text x="461.0" y="204.79999999999998" font-size="5" text-anchor="middle" fill="#222" stroke="none" font-weight="normal" >Specificity</text>
<text x="407.6" y="213.29999999999998" font-size="5" text-anchor="middle" fill="#222" stroke="none" font-weight="normal" >HLH</text>
<text x="409.40000000000003" y="218.0" font-size="5" text-anchor="middle" fill="#222" stroke="none" font-weight="normal" >Sepsis or SIRS</text>
<text x="434.8" y="213.29999999999998" font-size="5" text-anchor="middle" fill="#222" stroke="none" font-weight="normal" >0.74</text>
<text x="461.0" y="213.29999999999998" font-size="5" text-anchor="middle" fill="#222" stroke="none" font-weight="normal" >0.83</text>
<text x="434.0" y="218.0" font-size="5" text-anchor="middle" fill="#222" stroke="none" font-weight="normal" >0.83</text>
<text x="461.0" y="218.0" font-size="5" text-anchor="middle" fill="#222" stroke="none" font-weight="normal" >0.74</text>
<text x="4.6" y="252.3" font-size="10.4" text-anchor="start" fill="#000" stroke="none" font-weight="bold" >C</text>
<path d="M35.85,352.90H125.95M38.40,355.45V265.35M35.85,344.40H125.95M46.90,355.45V265.35M35.85,335.90H125.95M55.40,355.45V265.35M35.85,327.40H125.95M63.90,355.45V265.35M35.85,318.90H125.95M72.40,355.45V265.35M35.85,310.40H125.95M80.90,355.45V265.35M35.85,301.90H125.95M89.40,355.45V265.35M35.85,293.40H125.95M97.90,355.45V265.35M35.85,284.90H125.95M106.40,355.45V265.35M35.85,276.40H125.95M114.90,355.45V265.35M35.85,267.90H125.95M123.40,355.45V265.35" stroke="#c6c6c6" stroke-width="0.65" stroke-dasharray="1.2,1.2" fill="none"/>
<line x1="35.0" y1="356.29999999999995" x2="126.80000000000001" y2="264.5" stroke="#000" stroke-width="1.1"/>
<path d="M38.40,352.90 L38.40,288.20 L44.90,288.20 L44.90,284.00 L49.10,284.00 L49.10,267.90 L123.40,267.90" stroke="#1f5c99" stroke-width="1.45" fill="none"/>
<path d="M38.40,352.90 L38.40,328.10 L41.50,328.10 L41.50,296.20 L45.20,296.20 L45.20,279.40 L71.60,279.40 L71.60,275.60 L75.50,275.60 L75.50,267.90 L123.40,267.90" stroke="#d6203e" stroke-width="1.45" fill="none"/>
<rect x="35.00" y="264.50" width="91.80" height="91.80" fill="none" stroke="#000" stroke-width="1.3"/>
<line x1="32.4" y1="352.9" x2="35.0" y2="352.9" stroke="#000" stroke-width="1.0"/>
<line x1="38.4" y1="356.29999999999995" x2="38.4" y2="358.9" stroke="#000" stroke-width="1.0"/>
<text x="29.20" y="355.40" font-size="7.3" text-anchor="end" fill="#111" stroke="#111" stroke-width="0.14" font-weight="normal" >0.0</text>
<text x="38.40" y="366.50" font-size="7.1" text-anchor="middle" fill="#111" stroke="#111" stroke-width="0.14" font-weight="normal" >0.0</text>
<line x1="32.4" y1="335.9" x2="35.0" y2="335.9" stroke="#000" stroke-width="1.0"/>
<line x1="55.4" y1="356.29999999999995" x2="55.4" y2="358.9" stroke="#000" stroke-width="1.0"/>
<text x="29.20" y="338.40" font-size="7.3" text-anchor="end" fill="#111" stroke="#111" stroke-width="0.14" font-weight="normal" >0.2</text>
<text x="55.40" y="366.50" font-size="7.1" text-anchor="middle" fill="#111" stroke="#111" stroke-width="0.14" font-weight="normal" >0.2</text>
<line x1="32.4" y1="318.9" x2="35.0" y2="318.9" stroke="#000" stroke-width="1.0"/>
<line x1="72.4" y1="356.29999999999995" x2="72.4" y2="358.9" stroke="#000" stroke-width="1.0"/>
<text x="29.20" y="321.40" font-size="7.3" text-anchor="end" fill="#111" stroke="#111" stroke-width="0.14" font-weight="normal" >0.4</text>
<text x="72.40" y="366.50" font-size="7.1" text-anchor="middle" fill="#111" stroke="#111" stroke-width="0.14" font-weight="normal" >0.4</text>
<line x1="32.4" y1="301.9" x2="35.0" y2="301.9" stroke="#000" stroke-width="1.0"/>
<line x1="89.4" y1="356.29999999999995" x2="89.4" y2="358.9" stroke="#000" stroke-width="1.0"/>
<text x="29.20" y="304.40" font-size="7.3" text-anchor="end" fill="#111" stroke="#111" stroke-width="0.14" font-weight="normal" >0.6</text>
<text x="89.40" y="366.50" font-size="7.1" text-anchor="middle" fill="#111" stroke="#111" stroke-width="0.14" font-weight="normal" >0.6</text>
<line x1="32.4" y1="284.9" x2="35.0" y2="284.9" stroke="#000" stroke-width="1.0"/>
<line x1="106.4" y1="356.29999999999995" x2="106.4" y2="358.9" stroke="#000" stroke-width="1.0"/>
<text x="29.20" y="287.40" font-size="7.3" text-anchor="end" fill="#111" stroke="#111" stroke-width="0.14" font-weight="normal" >0.8</text>
<text x="106.40" y="366.50" font-size="7.1" text-anchor="middle" fill="#111" stroke="#111" stroke-width="0.14" font-weight="normal" >0.8</text>
<line x1="32.4" y1="267.9" x2="35.0" y2="267.9" stroke="#000" stroke-width="1.0"/>
<line x1="123.4" y1="356.29999999999995" x2="123.4" y2="358.9" stroke="#000" stroke-width="1.0"/>
<text x="29.20" y="270.40" font-size="7.3" text-anchor="end" fill="#111" stroke="#111" stroke-width="0.14" font-weight="normal" >1.0</text>
<text x="123.40" y="366.50" font-size="7.1" text-anchor="middle" fill="#111" stroke="#111" stroke-width="0.14" font-weight="normal" >1.0</text>
<text x="80.70" y="257.8" font-size="7.45" text-anchor="middle" fill="#111" stroke="#111" stroke-width="0.05" font-weight="normal" >ROC curve (Training set)</text>
<text transform="translate(12.10,310) rotate(-90) scale(0.77,1)" font-size="8.4" text-anchor="middle" fill="#111" stroke="#111" stroke-width="0.3">Sensitivity</text>
<text transform="translate(81.10,378.8) scale(0.77,1)" font-size="8.4" text-anchor="middle" fill="#111" stroke="#111" stroke-width="0.3">1 - Specificity</text>
<text x="65.50" y="329.8" font-size="5.1" text-anchor="start" fill="#1f5c99" stroke="#1f5c99" stroke-width="0.12" font-weight="normal" >AUC: 0.971 (0.932–1.000)</text>
<text x="65.50" y="335.8" font-size="5.1" text-anchor="start" fill="#d6203e" stroke="#d6203e" stroke-width="0.12" font-weight="normal" >AUC: 0.907 (0.818–0.996)</text>
<line x1="65.2" y1="342.5" x2="75.4" y2="342.5" stroke="#1f5c99" stroke-width="1.5"/>
<line x1="65.2" y1="349.7" x2="75.4" y2="349.7" stroke="#d6203e" stroke-width="1.5"/>
<text x="77.00" y="343.9" font-size="5.1" text-anchor="start" fill="#111" stroke="#111" stroke-width="0.14" font-weight="normal" >10 Protein Classifier</text>
<text x="77.00" y="351.1" font-size="5.1" text-anchor="start" fill="#111" stroke="#111" stroke-width="0.14" font-weight="normal" >2 Protein Classifier</text>
<path d="M163.15,352.90H253.25M165.70,355.45V265.35M163.15,344.40H253.25M174.20,355.45V265.35M163.15,335.90H253.25M182.70,355.45V265.35M163.15,327.40H253.25M191.20,355.45V265.35M163.15,318.90H253.25M199.70,355.45V265.35M163.15,310.40H253.25M208.20,355.45V265.35M163.15,301.90H253.25M216.70,355.45V265.35M163.15,293.40H253.25M225.20,355.45V265.35M163.15,284.90H253.25M233.70,355.45V265.35M163.15,276.40H253.25M242.20,355.45V265.35M163.15,267.90H253.25M250.70,355.45V265.35" stroke="#c6c6c6" stroke-width="0.65" stroke-dasharray="1.2,1.2" fill="none"/>
<line x1="162.29999999999998" y1="356.29999999999995" x2="254.1" y2="264.5" stroke="#000" stroke-width="1.1"/>
<path d="M165.70,352.90 L165.70,285.80 L172.20,285.80 L172.20,280.20 L175.60,280.20 L175.60,276.30 L183.80,276.30 L183.80,271.60 L200.60,271.60 L200.60,267.90 L250.70,267.90" stroke="#1f5c99" stroke-width="1.45" fill="none"/>
<path d="M165.70,352.90 L169.40,352.90 L169.40,307.70 L173.70,307.70 L173.70,293.70 L180.70,293.70 L180.70,289.50 L194.20,289.50 L194.20,285.50 L212.00,285.50 L212.00,276.30 L215.70,276.30 L215.70,271.50 L237.00,271.50 L237.00,267.90 L250.70,267.90" stroke="#d6203e" stroke-width="1.45" fill="none"/>
<rect x="162.30" y="264.50" width="91.80" height="91.80" fill="none" stroke="#000" stroke-width="1.3"/>
<line x1="159.7" y1="352.9" x2="162.29999999999998" y2="352.9" stroke="#000" stroke-width="1.0"/>
<line x1="165.7" y1="356.29999999999995" x2="165.7" y2="358.9" stroke="#000" stroke-width="1.0"/>
<text x="156.50" y="355.40" font-size="7.3" text-anchor="end" fill="#111" stroke="#111" stroke-width="0.14" font-weight="normal" >0.0</text>
<text x="165.70" y="366.50" font-size="7.1" text-anchor="middle" fill="#111" stroke="#111" stroke-width="0.14" font-weight="normal" >0.0</text>
<line x1="159.7" y1="335.9" x2="162.29999999999998" y2="335.9" stroke="#000" stroke-width="1.0"/>
<line x1="182.7" y1="356.29999999999995" x2="182.7" y2="358.9" stroke="#000" stroke-width="1.0"/>
<text x="156.50" y="338.40" font-size="7.3" text-anchor="end" fill="#111" stroke="#111" stroke-width="0.14" font-weight="normal" >0.2</text>
<text x="182.70" y="366.50" font-size="7.1" text-anchor="middle" fill="#111" stroke="#111" stroke-width="0.14" font-weight="normal" >0.2</text>
<line x1="159.7" y1="318.9" x2="162.29999999999998" y2="318.9" stroke="#000" stroke-width="1.0"/>
<line x1="199.7" y1="356.29999999999995" x2="199.7" y2="358.9" stroke="#000" stroke-width="1.0"/>
<text x="156.50" y="321.40" font-size="7.3" text-anchor="end" fill="#111" stroke="#111" stroke-width="0.14" font-weight="normal" >0.4</text>
<text x="199.70" y="366.50" font-size="7.1" text-anchor="middle" fill="#111" stroke="#111" stroke-width="0.14" font-weight="normal" >0.4</text>
<line x1="159.7" y1="301.9" x2="162.29999999999998" y2="301.9" stroke="#000" stroke-width="1.0"/>
<line x1="216.7" y1="356.29999999999995" x2="216.7" y2="358.9" stroke="#000" stroke-width="1.0"/>
<text x="156.50" y="304.40" font-size="7.3" text-anchor="end" fill="#111" stroke="#111" stroke-width="0.14" font-weight="normal" >0.6</text>
<text x="216.70" y="366.50" font-size="7.1" text-anchor="middle" fill="#111" stroke="#111" stroke-width="0.14" font-weight="normal" >0.6</text>
<line x1="159.7" y1="284.9" x2="162.29999999999998" y2="284.9" stroke="#000" stroke-width="1.0"/>
<line x1="233.7" y1="356.29999999999995" x2="233.7" y2="358.9" stroke="#000" stroke-width="1.0"/>
<text x="156.50" y="287.40" font-size="7.3" text-anchor="end" fill="#111" stroke="#111" stroke-width="0.14" font-weight="normal" >0.8</text>
<text x="233.70" y="366.50" font-size="7.1" text-anchor="middle" fill="#111" stroke="#111" stroke-width="0.14" font-weight="normal" >0.8</text>
<line x1="159.7" y1="267.9" x2="162.29999999999998" y2="267.9" stroke="#000" stroke-width="1.0"/>
<line x1="250.7" y1="356.29999999999995" x2="250.7" y2="358.9" stroke="#000" stroke-width="1.0"/>
<text x="156.50" y="270.40" font-size="7.3" text-anchor="end" fill="#111" stroke="#111" stroke-width="0.14" font-weight="normal" >1.0</text>
<text x="250.70" y="366.50" font-size="7.1" text-anchor="middle" fill="#111" stroke="#111" stroke-width="0.14" font-weight="normal" >1.0</text>
<text x="208.00" y="257.8" font-size="7.45" text-anchor="middle" fill="#111" stroke="#111" stroke-width="0.05" font-weight="normal" >ROC curve (Validation set)</text>
<text transform="translate(139.40,310) rotate(-90) scale(0.77,1)" font-size="8.4" text-anchor="middle" fill="#111" stroke="#111" stroke-width="0.3">Sensitivity</text>
<text transform="translate(208.40,378.8) scale(0.77,1)" font-size="8.4" text-anchor="middle" fill="#111" stroke="#111" stroke-width="0.3">1 - Specificity</text>
<text x="192.80" y="329.8" font-size="5.1" text-anchor="start" fill="#1f5c99" stroke="#1f5c99" stroke-width="0.12" font-weight="normal" >AUC: 0.956 (0.901–1.000)</text>
<text x="192.80" y="335.8" font-size="5.1" text-anchor="start" fill="#d6203e" stroke="#d6203e" stroke-width="0.12" font-weight="normal" >AUC: 0.807 (0.667–0.947)</text>
<line x1="192.5" y1="342.5" x2="202.7" y2="342.5" stroke="#1f5c99" stroke-width="1.5"/>
<line x1="192.5" y1="349.7" x2="202.7" y2="349.7" stroke="#d6203e" stroke-width="1.5"/>
<text x="204.30" y="343.9" font-size="5.1" text-anchor="start" fill="#111" stroke="#111" stroke-width="0.14" font-weight="normal" >10 Protein classifier</text>
<text x="204.30" y="351.1" font-size="5.1" text-anchor="start" fill="#111" stroke="#111" stroke-width="0.14" font-weight="normal" >2 Protein classifier</text>
<text x="261" y="251.4" font-size="9.4" text-anchor="start" fill="#000" stroke="none" font-weight="bold" >D</text>
<line x1="287.0" y1="264.6" x2="287.0" y2="356.8" stroke="#000" stroke-width="1.1"/>
<line x1="286.5" y1="356.3" x2="378.8" y2="356.3" stroke="#000" stroke-width="1.1"/>
<line x1="283.4" y1="356.25" x2="287.0" y2="356.25" stroke="#000" stroke-width="1.0"/>
<text x="281.60" y="358.75" font-size="7.0" text-anchor="end" fill="#111" stroke="#111" stroke-width="0.14" font-weight="normal" >0</text>
<line x1="283.4" y1="338.75" x2="287.0" y2="338.75" stroke="#000" stroke-width="1.0"/>
<text x="281.60" y="341.25" font-size="7.0" text-anchor="end" fill="#111" stroke="#111" stroke-width="0.14" font-weight="normal" >2</text>
<line x1="283.4" y1="321.25" x2="287.0" y2="321.25" stroke="#000" stroke-width="1.0"/>
<text x="281.60" y="323.75" font-size="7.0" text-anchor="end" fill="#111" stroke="#111" stroke-width="0.14" font-weight="normal" >4</text>
<line x1="283.4" y1="303.75" x2="287.0" y2="303.75" stroke="#000" stroke-width="1.0"/>
<text x="281.60" y="306.25" font-size="7.0" text-anchor="end" fill="#111" stroke="#111" stroke-width="0.14" font-weight="normal" >6</text>
<line x1="283.4" y1="286.25" x2="287.0" y2="286.25" stroke="#000" stroke-width="1.0"/>
<text x="281.60" y="288.75" font-size="7.0" text-anchor="end" fill="#111" stroke="#111" stroke-width="0.14" font-weight="normal" >8</text>
<line x1="283.4" y1="268.75" x2="287.0" y2="268.75" stroke="#000" stroke-width="1.0"/>
<text x="281.60" y="271.25" font-size="7.0" text-anchor="end" fill="#111" stroke="#111" stroke-width="0.14" font-weight="normal" >10</text>
<line x1="308.9" y1="356.3" x2="308.9" y2="359.5" stroke="#000" stroke-width="1.0"/>
<line x1="352.6" y1="356.3" x2="352.6" y2="359.5" stroke="#000" stroke-width="1.0"/>
<text x="308.9" y="367.3" font-size="7.7" text-anchor="middle" fill="#111" stroke="#111" stroke-width="0.04" font-weight="normal" >HLH</text>
<text x="352.6" y="367.3" font-size="7.6" text-anchor="middle" fill="#111" stroke="#111" stroke-width="0.04" font-weight="normal" >Sepsis/SIRS</text>
<text x="333.60" y="257.9" font-size="7.45" text-anchor="middle" fill="#111" stroke="#111" stroke-width="0.05" font-weight="normal" >CXCL9/IL-6 ratio (Training set)</text>
<text transform="translate(266.80,311.5) rotate(-90) scale(0.82,1)" font-size="7.3" text-anchor="middle" fill="#111" stroke="#111" stroke-width="0.25">CXCL9/IL-6 ratio</text>
<line x1="308.8" y1="297.3" x2="308.8" y2="337.3" stroke="#1f5f9c" stroke-width="1.2"/>
<line x1="301.3" y1="297.3" x2="316.1" y2="297.3" stroke="#1f5f9c" stroke-width="1.2"/>
<line x1="301.3" y1="337.3" x2="316.1" y2="337.3" stroke="#1f5f9c" stroke-width="1.2"/>
<line x1="293.9" y1="317.2" x2="323.6" y2="317.2" stroke="#1f5f9c" stroke-width="1.2"/>
<line x1="352.7" y1="287.2" x2="352.7" y2="350.2" stroke="#1f5f9c" stroke-width="1.2"/>
<line x1="345.3" y1="327.4" x2="360.0" y2="327.4" stroke="#1f5f9c" stroke-width="1.2"/>
<line x1="345.3" y1="350.2" x2="360.0" y2="350.2" stroke="#1f5f9c" stroke-width="1.2"/>
<line x1="337.9" y1="338.5" x2="367.6" y2="338.5" stroke="#1f5f9c" stroke-width="1.2"/>
<line x1="308.8" y1="273.9" x2="352.6" y2="273.9" stroke="#1f5f9c" stroke-width="1.2"/>
<circle cx="331.20" cy="270.90" r="0.75" fill="#222"/>
<circle cx="306.2" cy="278.7" r="1.8" fill="#d0112b"/>
<circle cx="311.5" cy="281.8" r="1.8" fill="#d0112b"/>
<circle cx="311.4" cy="288.7" r="1.8" fill="#d0112b"/>
<circle cx="306.2" cy="292.5" r="1.8" fill="#d0112b"/>
<circle cx="314.0" cy="302.8" r="1.8" fill="#d0112b"/>
<circle cx="303.2" cy="304.6" r="1.8" fill="#d0112b"/>
<circle cx="308.6" cy="305.4" r="1.8" fill="#d0112b"/>
<circle cx="311.5" cy="308.2" r="1.8" fill="#d0112b"/>
<circle cx="306.2" cy="311.8" r="1.8" fill="#d0112b"/>
<circle cx="306.3" cy="313.2" r="1.8" fill="#d0112b"/>
<circle cx="308.8" cy="320.5" r="1.8" fill="#d0112b"/>
<circle cx="311.5" cy="324.1" r="1.8" fill="#d0112b"/>
<circle cx="303.4" cy="327.7" r="1.8" fill="#d0112b"/>
<circle cx="301.2" cy="329.3" r="1.8" fill="#d0112b"/>
<circle cx="306.5" cy="330.8" r="1.8" fill="#d0112b"/>
<circle cx="316.7" cy="329.8" r="1.8" fill="#d0112b"/>
<circle cx="311.5" cy="334.1" r="1.8" fill="#d0112b"/>
<circle cx="298.5" cy="336.0" r="1.8" fill="#d0112b"/>
<circle cx="303.4" cy="339.3" r="1.8" fill="#d0112b"/>
<circle cx="308.8" cy="341.1" r="1.8" fill="#d0112b"/>
<circle cx="314.0" cy="339.3" r="1.8" fill="#d0112b"/>
<circle cx="319.5" cy="338.9" r="1.8" fill="#d0112b"/>
<rect x="351.10" y="293.90" width="3.2" height="3.2" fill="#d0112b"/>
<rect x="348.20" y="327.40" width="3.2" height="3.2" fill="#d0112b"/>
<rect x="353.90" y="329.10" width="3.2" height="3.2" fill="#d0112b"/>
<rect x="340.60" y="330.40" width="3.2" height="3.2" fill="#d0112b"/>
<rect x="345.70" y="331.50" width="3.2" height="3.2" fill="#d0112b"/>
<rect x="361.60" y="331.10" width="3.2" height="3.2" fill="#d0112b"/>
<rect x="356.20" y="333.80" width="3.2" height="3.2" fill="#d0112b"/>
<rect x="350.90" y="334.50" width="3.2" height="3.2" fill="#d0112b"/>
<rect x="338.80" y="336.20" width="3.2" height="3.2" fill="#d0112b"/>
<rect x="363.30" y="336.50" width="3.2" height="3.2" fill="#d0112b"/>
<rect x="343.50" y="339.20" width="3.2" height="3.2" fill="#d0112b"/>
<rect x="348.20" y="339.50" width="3.2" height="3.2" fill="#d0112b"/>
<rect x="353.60" y="340.50" width="3.2" height="3.2" fill="#d0112b"/>
<rect x="357.90" y="339.50" width="3.2" height="3.2" fill="#d0112b"/>
<rect x="338.80" y="342.40" width="3.2" height="3.2" fill="#d0112b"/>
<rect x="341.50" y="343.90" width="3.2" height="3.2" fill="#d0112b"/>
<rect x="344.50" y="344.90" width="3.2" height="3.2" fill="#d0112b"/>
<rect x="347.80" y="345.60" width="3.2" height="3.2" fill="#d0112b"/>
<rect x="350.90" y="345.80" width="3.2" height="3.2" fill="#d0112b"/>
<rect x="353.90" y="345.60" width="3.2" height="3.2" fill="#d0112b"/>
<rect x="357.20" y="344.90" width="3.2" height="3.2" fill="#d0112b"/>
<rect x="360.30" y="343.90" width="3.2" height="3.2" fill="#d0112b"/>
<rect x="363.00" y="342.50" width="3.2" height="3.2" fill="#d0112b"/>
<rect x="345.00" y="343.40" width="3.2" height="3.2" fill="#d0112b"/>
<rect x="348.40" y="344.00" width="3.2" height="3.2" fill="#d0112b"/>
<rect x="353.40" y="344.00" width="3.2" height="3.2" fill="#d0112b"/>
<rect x="356.70" y="343.40" width="3.2" height="3.2" fill="#d0112b"/>
<rect x="350.90" y="347.20" width="3.2" height="3.2" fill="#d0112b"/>
<line x1="415.6" y1="264.6" x2="415.6" y2="356.8" stroke="#000" stroke-width="1.1"/>
<line x1="415.1" y1="356.3" x2="507.5" y2="356.3" stroke="#000" stroke-width="1.1"/>
<line x1="412.0" y1="356.25" x2="415.6" y2="356.25" stroke="#000" stroke-width="1.0"/>
<text x="410.20" y="358.75" font-size="7.0" text-anchor="end" fill="#111" stroke="#111" stroke-width="0.14" font-weight="normal" >0</text>
<line x1="412.0" y1="338.75" x2="415.6" y2="338.75" stroke="#000" stroke-width="1.0"/>
<text x="410.20" y="341.25" font-size="7.0" text-anchor="end" fill="#111" stroke="#111" stroke-width="0.14" font-weight="normal" >2</text>
<line x1="412.0" y1="321.25" x2="415.6" y2="321.25" stroke="#000" stroke-width="1.0"/>
<text x="410.20" y="323.75" font-size="7.0" text-anchor="end" fill="#111" stroke="#111" stroke-width="0.14" font-weight="normal" >4</text>
<line x1="412.0" y1="303.75" x2="415.6" y2="303.75" stroke="#000" stroke-width="1.0"/>
<text x="410.20" y="306.25" font-size="7.0" text-anchor="end" fill="#111" stroke="#111" stroke-width="0.14" font-weight="normal" >6</text>
<line x1="412.0" y1="286.25" x2="415.6" y2="286.25" stroke="#000" stroke-width="1.0"/>
<text x="410.20" y="288.75" font-size="7.0" text-anchor="end" fill="#111" stroke="#111" stroke-width="0.14" font-weight="normal" >8</text>
<line x1="412.0" y1="268.75" x2="415.6" y2="268.75" stroke="#000" stroke-width="1.0"/>
<text x="410.20" y="271.25" font-size="7.0" text-anchor="end" fill="#111" stroke="#111" stroke-width="0.14" font-weight="normal" >10</text>
<line x1="437.4" y1="356.3" x2="437.4" y2="359.5" stroke="#000" stroke-width="1.0"/>
<line x1="480.8" y1="356.3" x2="480.8" y2="359.5" stroke="#000" stroke-width="1.0"/>
<text x="437.4" y="367.3" font-size="7.7" text-anchor="middle" fill="#111" stroke="#111" stroke-width="0.04" font-weight="normal" >HLH</text>
<text x="480.8" y="367.3" font-size="7.6" text-anchor="middle" fill="#111" stroke="#111" stroke-width="0.04" font-weight="normal" >Sepsis/SIRS</text>
<text x="461.00" y="257.9" font-size="7.45" text-anchor="middle" fill="#111" stroke="#111" stroke-width="0.05" font-weight="normal" >CXCL9/IL-6 ratio (Validation set)</text>
<text transform="translate(395.40,311.5) rotate(-90) scale(0.82,1)" font-size="7.3" text-anchor="middle" fill="#111" stroke="#111" stroke-width="0.25">CXCL9/IL-6 ratio</text>
<line x1="437.3" y1="291.0" x2="437.3" y2="340.0" stroke="#1f5f9c" stroke-width="1.2"/>
<line x1="429.8" y1="291.0" x2="444.8" y2="291.0" stroke="#1f5f9c" stroke-width="1.2"/>
<line x1="429.8" y1="340.0" x2="444.8" y2="340.0" stroke="#1f5f9c" stroke-width="1.2"/>
<line x1="422.3" y1="316.0" x2="452.2" y2="316.0" stroke="#1f5f9c" stroke-width="1.2"/>
<line x1="480.9" y1="312.0" x2="480.9" y2="351.5" stroke="#1f5f9c" stroke-width="1.2"/>
<line x1="473.6" y1="318.0" x2="487.8" y2="318.0" stroke="#1f5f9c" stroke-width="1.2"/>
<line x1="473.6" y1="351.5" x2="487.8" y2="351.5" stroke="#1f5f9c" stroke-width="1.2"/>
<line x1="465.9" y1="329.1" x2="495.8" y2="329.1" stroke="#1f5f9c" stroke-width="1.2"/>
<line x1="465.9" y1="334.8" x2="495.8" y2="334.8" stroke="#1f5f9c" stroke-width="1.2"/>
<line x1="437.8" y1="265.2" x2="481.0" y2="265.2" stroke="#1f5f9c" stroke-width="1.2"/>
<circle cx="460.60" cy="262.20" r="0.75" fill="#222"/>
<circle cx="434.8" cy="271.2" r="1.8" fill="#d0112b"/>
<circle cx="439.8" cy="270.3" r="1.8" fill="#d0112b"/>
<circle cx="437.3" cy="278.8" r="1.8" fill="#d0112b"/>
<circle cx="437.3" cy="287.9" r="1.8" fill="#d0112b"/>
<circle cx="442.5" cy="302.4" r="1.8" fill="#d0112b"/>
<circle cx="432.1" cy="305.1" r="1.8" fill="#d0112b"/>
<circle cx="437.3" cy="305.1" r="1.8" fill="#d0112b"/>
<circle cx="434.7" cy="314.8" r="1.8" fill="#d0112b"/>
<circle cx="439.9" cy="313.8" r="1.8" fill="#d0112b"/>
<circle cx="434.7" cy="323.1" r="1.8" fill="#d0112b"/>
<circle cx="439.9" cy="325.8" r="1.8" fill="#d0112b"/>
<circle cx="432.1" cy="327.9" r="1.8" fill="#d0112b"/>
<circle cx="437.3" cy="332.0" r="1.8" fill="#d0112b"/>
<circle cx="442.5" cy="331.7" r="1.8" fill="#d0112b"/>
<circle cx="434.7" cy="337.2" r="1.8" fill="#d0112b"/>
<circle cx="439.9" cy="339.0" r="1.8" fill="#d0112b"/>
<circle cx="432.1" cy="341.3" r="1.8" fill="#d0112b"/>
<circle cx="437.3" cy="346.2" r="1.8" fill="#d0112b"/>
<circle cx="442.5" cy="344.8" r="1.8" fill="#d0112b"/>
<rect x="479.60" y="288.40" width="3.2" height="3.2" fill="#d0112b"/>
<rect x="479.60" y="294.10" width="3.2" height="3.2" fill="#d0112b"/>
<rect x="479.60" y="303.20" width="3.2" height="3.2" fill="#d0112b"/>
<rect x="479.60" y="315.10" width="3.2" height="3.2" fill="#d0112b"/>
<rect x="476.50" y="321.90" width="3.2" height="3.2" fill="#d0112b"/>
<rect x="482.30" y="325.60" width="3.2" height="3.2" fill="#d0112b"/>
<rect x="476.50" y="334.20" width="3.2" height="3.2" fill="#d0112b"/>
<rect x="482.30" y="332.70" width="3.2" height="3.2" fill="#d0112b"/>
<rect x="466.70" y="337.40" width="3.2" height="3.2" fill="#d0112b"/>
<rect x="469.60" y="337.90" width="3.2" height="3.2" fill="#d0112b"/>
<rect x="473.20" y="339.80" width="3.2" height="3.2" fill="#d0112b"/>
<rect x="476.40" y="340.90" width="3.2" height="3.2" fill="#d0112b"/>
<rect x="479.40" y="341.40" width="3.2" height="3.2" fill="#d0112b"/>
<rect x="482.40" y="340.90" width="3.2" height="3.2" fill="#d0112b"/>
<rect x="485.40" y="340.00" width="3.2" height="3.2" fill="#d0112b"/>
<rect x="488.60" y="338.80" width="3.2" height="3.2" fill="#d0112b"/>
<rect x="491.70" y="337.60" width="3.2" height="3.2" fill="#d0112b"/>
<rect x="466.70" y="343.20" width="3.2" height="3.2" fill="#d0112b"/>
<rect x="469.60" y="343.60" width="3.2" height="3.2" fill="#d0112b"/>
<rect x="472.60" y="345.00" width="3.2" height="3.2" fill="#d0112b"/>
<rect x="475.80" y="345.90" width="3.2" height="3.2" fill="#d0112b"/>
<rect x="478.80" y="346.20" width="3.2" height="3.2" fill="#d0112b"/>
<rect x="481.90" y="345.70" width="3.2" height="3.2" fill="#d0112b"/>
<rect x="485.00" y="344.90" width="3.2" height="3.2" fill="#d0112b"/>
<rect x="488.00" y="343.90" width="3.2" height="3.2" fill="#d0112b"/>
<rect x="491.40" y="343.20" width="3.2" height="3.2" fill="#d0112b"/>
<rect x="477.20" y="348.40" width="3.2" height="3.2" fill="#d0112b"/>
<rect x="476.00" y="335.20" width="3.2" height="3.2" fill="#d0112b"/>
<rect x="481.70" y="334.90" width="3.2" height="3.2" fill="#d0112b"/>
<rect x="0" y="0" width="520" height="1.1" fill="#000"/>
<rect x="0" y="0" width="1.1" height="387" fill="#000"/>
<rect x="518.4" y="0" width="1.6" height="387" fill="#000"/>
<rect x="0" y="385.2" width="520" height="1.8" fill="#000"/>
</svg></body></html>
